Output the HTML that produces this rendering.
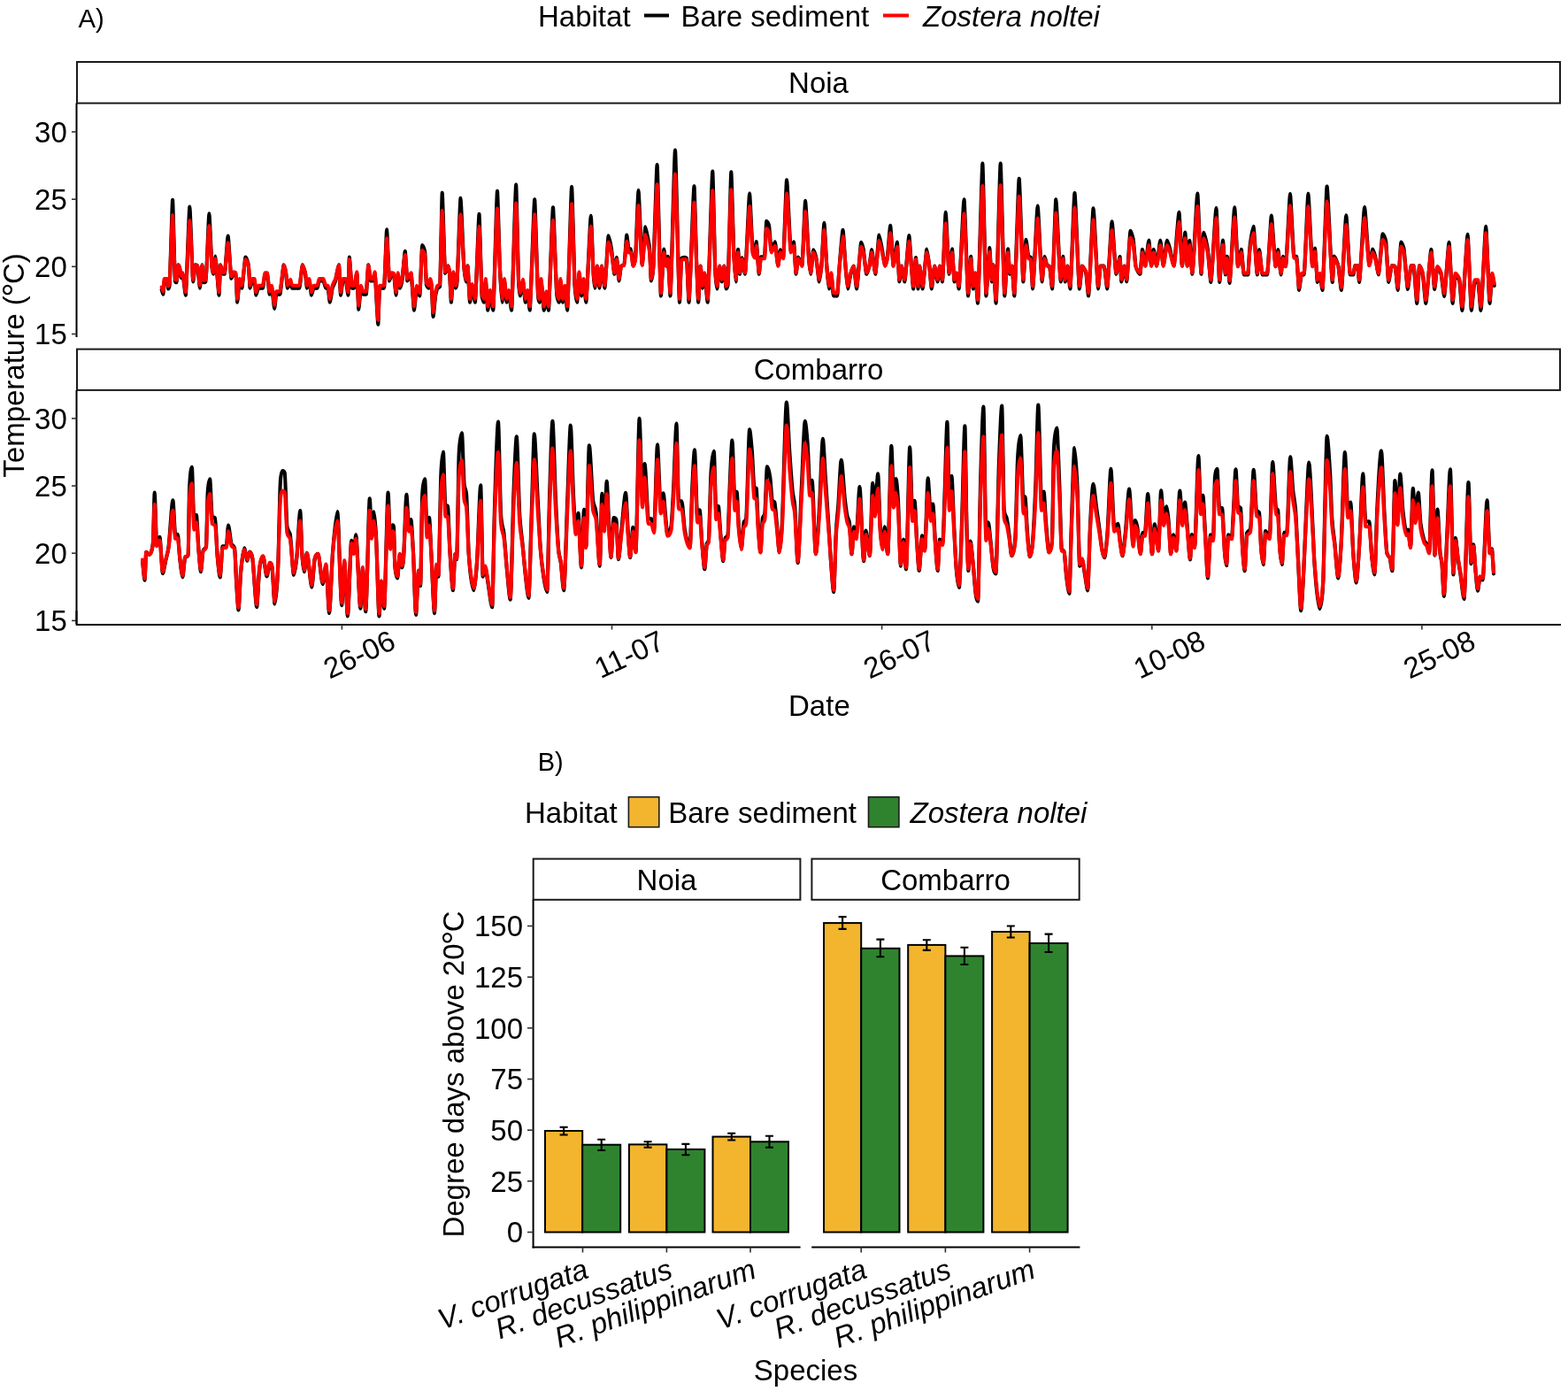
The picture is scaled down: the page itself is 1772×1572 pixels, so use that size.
<!DOCTYPE html>
<html><head><meta charset="utf-8"><title>Figure</title>
<style>html,body{margin:0;padding:0;background:#fff;overflow:hidden;}svg{display:block;}</style>
</head><body>
<svg width="1772" height="1572" viewBox="0 0 1772 1572" font-family="'Liberation Sans', Arial, Helvetica, sans-serif">
<rect x="0" y="0" width="1772" height="1572" fill="#fff"/>
<text x="88.5" y="30.6" font-size="29.3">A)</text>
<text x="608" y="29.5" font-size="33">Habitat</text>
<line x1="728" y1="17.5" x2="756" y2="17.5" stroke="#000" stroke-width="4"/>
<text x="769.5" y="29.5" font-size="33">Bare sediment</text>
<line x1="998" y1="17.5" x2="1027" y2="17.5" stroke="#f00" stroke-width="4"/>
<text x="1043" y="29.5" font-size="33" font-style="italic">Zostera noltei</text>
<rect x="87" y="70" width="1676" height="46.6" fill="#fff" stroke="#1a1a1a" stroke-width="2"/>
<text x="925" y="105" font-size="33" text-anchor="middle">Noia</text>
<rect x="87" y="394.6" width="1676" height="46.3" fill="#fff" stroke="#1a1a1a" stroke-width="2"/>
<text x="925" y="429.4" font-size="33" text-anchor="middle">Combarro</text>
<line x1="86.5" y1="116.6" x2="86.5" y2="381" stroke="#000" stroke-width="2"/>
<line x1="81" y1="149" x2="86.5" y2="149" stroke="#333" stroke-width="1.6"/>
<text x="75.8" y="160.9" font-size="33" text-anchor="end">30</text>
<line x1="81" y1="225.2" x2="86.5" y2="225.2" stroke="#333" stroke-width="1.6"/>
<text x="75.8" y="237.1" font-size="33" text-anchor="end">25</text>
<line x1="81" y1="301.3" x2="86.5" y2="301.3" stroke="#333" stroke-width="1.6"/>
<text x="75.8" y="313.2" font-size="33" text-anchor="end">20</text>
<line x1="81" y1="377.5" x2="86.5" y2="377.5" stroke="#333" stroke-width="1.6"/>
<text x="75.8" y="389.4" font-size="33" text-anchor="end">15</text>
<line x1="86.5" y1="440.9" x2="86.5" y2="705" stroke="#000" stroke-width="2"/>
<line x1="81" y1="472.9" x2="86.5" y2="472.9" stroke="#333" stroke-width="1.6"/>
<text x="75.8" y="484.8" font-size="33" text-anchor="end">30</text>
<line x1="81" y1="549.1" x2="86.5" y2="549.1" stroke="#333" stroke-width="1.6"/>
<text x="75.8" y="561" font-size="33" text-anchor="end">25</text>
<line x1="81" y1="625.2" x2="86.5" y2="625.2" stroke="#333" stroke-width="1.6"/>
<text x="75.8" y="637.1" font-size="33" text-anchor="end">20</text>
<line x1="81" y1="701.4" x2="86.5" y2="701.4" stroke="#333" stroke-width="1.6"/>
<text x="75.8" y="713.3" font-size="33" text-anchor="end">15</text>
<path d="M86.5,690 V705.9 H1764" stroke="#000" stroke-width="2" fill="none" stroke-linejoin="round"/>
<line x1="386.4" y1="706" x2="386.4" y2="711.5" stroke="#333" stroke-width="1.6"/>
<text x="405.9" y="751" font-size="33" text-anchor="middle" transform="rotate(-25 405.9 739.3)">26-06</text>
<line x1="691.5" y1="706" x2="691.5" y2="711.5" stroke="#333" stroke-width="1.6"/>
<text x="711" y="751" font-size="33" text-anchor="middle" transform="rotate(-25 711 739.3)">11-07</text>
<line x1="996.6" y1="706" x2="996.6" y2="711.5" stroke="#333" stroke-width="1.6"/>
<text x="1016.1" y="751" font-size="33" text-anchor="middle" transform="rotate(-25 1016.1 739.3)">26-07</text>
<line x1="1301.8" y1="706" x2="1301.8" y2="711.5" stroke="#333" stroke-width="1.6"/>
<text x="1321.3" y="751" font-size="33" text-anchor="middle" transform="rotate(-25 1321.3 739.3)">10-08</text>
<line x1="1606.9" y1="706" x2="1606.9" y2="711.5" stroke="#333" stroke-width="1.6"/>
<text x="1626.4" y="751" font-size="33" text-anchor="middle" transform="rotate(-25 1626.4 739.3)">25-08</text>
<text x="925.9" y="808.7" font-size="33" text-anchor="middle">Date</text>
<text x="26.7" y="413" font-size="33" text-anchor="middle" transform="rotate(-90 26.7 413)">Temperature (<tspan font-size="41" dy="4" dx="-1.5">°</tspan><tspan dy="-4" dx="-1.7">C)</tspan></text>
<path d="M182.7,327.3C183,328.2 184.1,332.7 184.4,332.7C184.6,332.7 185.4,317.5 185.6,317.5C186.1,317.5 188.4,317.5 189,317.5C189.1,317.5 189.8,326.5 190,326.5C190.3,326.5 191.4,324.2 191.7,322C192.2,317.5 194.5,225.7 195.1,225.7C195.5,225.7 197.5,316 197.9,317.5C198.2,318.4 199.3,319.3 199.6,319.3C199.9,319.3 201,299.4 201.3,299.4C201.6,299.4 202.7,301.4 203,302.6C203.3,303.8 204.4,313.9 204.7,313.9C205,313.9 206.1,309.8 206.4,309.8C207,309.8 209.2,333.6 209.8,333.6C210.5,333.6 213.6,233.6 214.4,233.6C215,233.6 217.6,318.4 218.2,318.4C218.7,318.4 220.4,299.4 220.8,299.4C221.2,299.4 222.9,299.9 223.3,300.5C223.7,301 225.4,325.6 225.9,325.6C226.3,325.6 228,299.4 228.4,299.4C228.7,299.4 229.8,319.3 230.1,319.3C230.5,319.3 232.2,318.8 232.6,318.4C233.3,317.7 235.7,241.4 236.4,241.4C236.9,241.4 238.9,294.1 239.4,300.5C239.7,304 240.8,309.8 241.1,309.8C241.5,309.8 243.2,289.5 243.6,289.5C243.9,289.5 245.1,306.6 245.3,309.8C245.7,314 247.2,333.6 247.5,333.6C247.8,333.6 248.9,299.4 249.2,299.4C249.7,299.4 251.6,309.8 252.1,309.8C252.4,309.8 253.5,309.8 253.8,309.8C254.4,309.8 257,266.6 257.7,266.6C258.3,266.6 260.8,314.8 261.4,314.8C261.8,314.8 263.5,308.8 264,308.8C264.4,308.8 266.1,309.3 266.5,309.8C266.8,310.1 267.9,341.7 268.2,341.7C268.6,341.7 270.3,317.5 270.7,317.5C271.2,317.5 272.8,325.6 273.3,325.6C274,325.6 276.8,290.6 277.5,290.6C278.1,290.6 280.3,295.5 280.9,300.5C281.2,302.9 282.3,325.6 282.6,325.6C283,325.6 284.7,317.5 285.1,317.5C285.5,317.5 287.2,317.5 287.7,317.5C287.9,317.5 289.1,333.6 289.3,333.6C289.8,333.6 291.5,325.6 291.9,325.6C292.7,325.6 296.1,325.6 297,325.6C297.4,325.6 299.1,309.8 299.5,309.8C299.9,309.8 301.6,309.8 302,309.8C302.5,309.8 304.2,332.7 304.6,332.7C305,332.7 306.7,325.6 307.1,325.6C307.6,325.6 309.7,348.9 310.2,348.9C310.5,348.9 311.9,332.7 312.2,332.7C312.9,332.7 315.7,332.7 316.4,332.7C317.1,332.7 320,299.4 320.7,299.4C321.1,299.4 322.8,307 323.2,309.8C323.5,311.7 324.6,325.6 324.9,325.6C325.5,325.6 327.7,318.4 328.3,318.4C328.6,318.4 329.7,325.6 330,325.6C331.4,325.6 337,325.6 338.4,325.6C339,325.6 341.3,299.3 341.8,299.3C342.4,299.3 344.7,307.4 345.2,310.8C345.5,312.5 346.6,325.6 346.9,325.6C347.3,325.6 349,317.5 349.4,317.5C349.9,317.5 351.6,333.6 352,333.6C352.4,333.6 354.1,325.6 354.5,325.6C355.2,325.6 358.1,325.6 358.8,325.6C359,325.6 360.2,317.5 360.5,317.5C361.3,317.5 364.7,317.5 365.5,317.5C366,317.5 367.6,325.6 368.1,325.6C368.5,325.6 370.2,325.6 370.6,325.6C371,325.6 372.4,341.7 372.8,341.7C373.3,341.7 375.2,327.5 375.7,325.6C376.3,323.3 378.5,319.5 379.1,317.5C379.7,315.2 382.3,299.3 383,299.3C383.3,299.3 384.7,333.6 385,333.6C385.4,333.6 387.1,317.5 387.5,317.5C388.1,317.5 390.4,317.5 390.9,317.5C391.3,317.5 393,333.6 393.5,333.6C393.7,333.6 394.6,290.5 394.8,290.5C395.3,290.5 397.2,325.6 397.7,325.6C398.1,325.6 399.8,325.6 400.2,325.6C400.7,325.6 402.8,308.8 403.3,308.8C403.6,308.8 405,349.8 405.3,349.8C405.7,349.8 407.4,325.6 407.9,325.6C408.3,325.6 410,332.7 410.4,332.7C411,332.7 413.2,332.7 413.8,332.7C414.2,332.7 415.9,299.3 416.3,299.3C416.7,299.3 418.4,317.5 418.9,317.5C419.3,317.5 421,317.5 421.4,317.5C421.8,317.5 423.2,308.8 423.6,308.8C424.2,308.8 426.7,366.8 427.3,366.8C427.6,366.8 428.7,325.6 429,325.6C429.9,325.6 433.2,325.6 434.1,325.6C434.6,325.6 436.6,259.3 437.1,259.3C437.6,259.3 439.5,317.5 440,317.5C440.4,317.5 442.1,309.8 442.6,309.8C443,309.8 444.7,310.3 445.1,310.8C445.5,311.4 447.2,333.6 447.6,333.6C448,333.6 449.3,309.8 449.7,309.8C450,309.8 451.5,325.6 451.9,325.6C452.3,325.6 454,320.3 454.4,317.5C455,313.8 457.2,283.7 457.8,283.7C458.2,283.7 459.9,317.5 460.3,317.5C461,317.5 463.9,309.8 464.6,309.8C465.1,309.8 467.4,350.7 468,350.7C468.4,350.7 470.4,325.6 470.9,325.6C471.5,325.6 473.7,334.5 474.3,334.5C474.8,334.5 476.7,277 477.2,277C477.7,277 479.7,280.9 480.2,284.8C480.5,287 481.6,320.8 481.9,322C482.4,323.8 484,325.6 484.5,325.6C484.8,325.6 485.9,317.5 486.2,317.5C486.4,317.5 487.6,322.2 487.9,325.6C488.1,328.9 489.3,357.9 489.5,357.9C490,357.9 491.7,337.2 492.1,334.5C492.5,331.8 494.2,325.6 494.6,325.6C495,325.5 496.7,324.7 497.2,323.8C497.6,322.9 499.3,217.8 499.7,217.8C500.3,217.8 502.5,308.8 503.1,308.8C503.7,308.8 505.9,300.4 506.5,300.4C506.8,300.4 507.9,307.4 508.2,310.8C508.5,314.3 509.6,341.7 509.9,341.7C510.3,341.7 512,308.8 512.4,308.8C512.8,308.8 514.5,325.6 514.9,325.6C515.2,325.6 516.4,321.5 516.6,317.5C517.3,308.2 519.9,223.7 520.5,223.7C521.1,223.7 523.6,291.9 524.3,300.4C524.7,306.3 526.4,318.4 526.8,318.4C527.1,318.4 528.2,300.4 528.5,300.4C528.9,300.4 530.6,341.7 531,341.7C531.4,341.7 533.1,323.8 533.6,323.8C534.1,323.8 536.4,341.7 536.9,341.7C537.7,341.7 540.8,241.8 541.5,241.8C542,241.8 544.1,330.2 544.6,334.5C545,338.1 546.7,341.7 547.1,341.7C547.4,341.7 548.5,317.5 548.8,317.5C549.2,317.5 550.9,350.7 551.3,350.7C551.8,350.7 553.5,330.9 553.9,330.9C554.4,330.9 556.7,350.7 557.3,350.7C558.1,350.7 561.2,215.8 562,215.8C562.5,215.8 564.4,291.6 564.9,302.6C565.3,312.2 567,341.7 567.4,341.7C567.8,341.7 569.5,317.5 570,317.5C570.4,317.5 572.1,341.7 572.5,341.7C572.9,341.7 574.6,330.9 575,330.9C575.5,330.9 577.6,350.7 578.1,350.7C578.9,350.7 582.3,208.6 583.2,208.6C583.6,208.6 585.6,306 586,317.5C586.3,324.2 587.5,334.5 587.7,334.5C588.3,334.5 590.6,318.4 591.1,318.4C591.5,318.4 593.2,341.7 593.7,341.7C594.1,341.7 595.8,330.9 596.2,330.9C596.6,330.9 598.3,350.7 598.7,350.7C599.6,350.7 603.3,225.4 604.2,225.4C604.8,225.4 607.4,326.3 608.1,334.5C608.3,338.1 609.5,341.7 609.7,341.7C610,341.7 611.2,317.5 611.4,317.5C612,317.5 614.3,350.7 614.8,350.7C615.2,350.7 616.9,332.7 617.4,332.7C617.8,332.7 619.5,350.7 619.9,350.7C620.7,350.7 624.1,234.4 625,234.4C625.7,234.4 628.5,325.3 629.2,332.7C629.6,337.2 631.3,341.7 631.8,341.7C632,341.7 633.2,317.5 633.4,317.5C633.9,317.5 635.6,341.7 636,341.7C636.4,341.7 638.1,325.6 638.5,325.6C638.9,325.6 640.6,350.7 641.1,350.7C641.9,350.7 645.3,211.1 646.1,211.1C646.7,211.1 649,310.5 649.5,322C650,330.5 651.6,341.7 652.1,341.7C652.5,341.7 654.2,308.8 654.6,308.8C655,308.8 656.7,334.5 657.1,334.5C657.6,334.5 659.3,317.5 659.7,317.5C660.1,317.5 661.8,341.7 662.2,341.7C663.2,341.7 666.9,243.7 667.8,243.7C668.3,243.7 670.2,303.2 670.7,310.8C671,315.3 672.1,325.6 672.4,325.6C672.8,325.6 674.5,300.5 674.9,300.5C675.3,300.5 677,325.6 677.5,325.6C677.9,325.6 679.6,300.5 680,300.5C680.6,300.5 682.8,325.6 683.4,325.6C684.1,325.6 686.9,266.4 687.6,266.4C688.2,266.4 690.4,277.7 691,281.3C691.6,284.9 693.8,309.8 694.4,309.8C694.8,309.8 696.5,290.9 696.9,290.9C697.4,290.9 699,317.5 699.5,317.5C699.9,317.5 701.6,300.7 702,300.5C702.6,300.2 704.8,299.9 705.4,299.4C705.9,299 707.8,265.5 708.3,265.5C708.6,265.5 710.1,281.4 710.5,281.4C710.9,281.4 712.6,281.4 713,281.4C713.4,281.5 715.1,300.5 715.6,300.5C716,300.5 717.7,295.7 718.1,291C718.7,284.6 720.9,215 721.5,215C722.2,215 725,299.4 725.7,299.4C726.3,299.4 728.8,256.3 729.4,256.3C729.9,256.3 732,268.2 732.5,271C732.8,272.6 733.9,277.7 734.2,281.6C734.5,285.4 735.6,317.5 735.9,317.5C736.3,317.5 738,307.6 738.4,300.5C739.1,288.6 741.9,186 742.6,186C743.3,186 746.2,334.5 746.9,334.5C747.4,334.5 749.7,281.5 750.3,281.5C750.7,281.5 752.4,300.5 752.8,300.5C753.1,300.5 754.5,289.9 754.8,289.9C755.3,289.9 757.1,334.5 757.5,334.5C758.4,334.5 762,169.5 763,169.5C763.8,169.5 767.2,341.7 768,341.7C768.4,341.7 769.7,292.3 770.1,292C770.6,291.4 772.9,290.9 773.5,290.9C773.9,290.9 775.6,291.4 776,292C776.4,292.5 778.1,341.7 778.5,341.7C779.5,341.7 783.5,210.2 784.5,210.2C784.9,210.2 786.6,280.4 787,292C787.4,302 788.8,341.7 789.2,341.7C789.6,341.7 791.3,300.5 791.7,300.5C792.1,300.5 793.4,325.6 793.8,325.6C794.2,325.6 795.9,309.8 796.3,309.8C796.9,309.8 799.1,341.7 799.7,341.7C800.6,341.7 804.4,193.6 805.3,193.6C805.8,193.6 807.7,290.9 808.2,302.6C808.5,311.5 810,326.5 810.4,326.5C810.8,326.5 812.8,300.5 813.2,300.5C813.7,300.5 815.4,318.4 815.8,318.4C816.2,318.4 817.9,300.5 818.3,300.5C818.7,300.5 820.2,326.5 820.5,326.5C820.9,326.5 822.2,324.2 822.6,322C823.2,317.9 825.7,194.3 826.3,194.3C826.8,194.3 828.8,274.6 829.3,286C829.7,294.2 831.2,318.4 831.5,318.4C832,318.4 833.6,281.9 834.1,281.9C834.4,281.9 835.8,309.8 836.1,309.8C836.5,309.8 838.2,291.2 838.6,291.2C839.2,291.2 841.5,309.8 842,309.8C842.9,309.8 846.3,218.6 847.1,218.6C847.7,218.6 849.9,277.3 850.5,282.1C850.9,285.7 852.6,289.3 853,289.3C853.3,289.3 854.4,273 854.7,273C855.2,273 857.3,309.8 857.8,309.8C858.1,309.8 859.5,290.3 859.8,290.3C860.5,290.3 863.3,290.4 864,290.4C864.4,290.4 865.9,249.8 866.2,249.8C866.7,249.8 868.6,252.4 869.1,254.9C869.5,257.2 871.2,282.3 871.7,282.3C872.4,282.3 875.2,273.3 875.9,273.3C876.4,273.3 878.7,300.5 879.3,300.5C879.7,300.5 881.4,282.4 881.8,282.4C882.4,282.4 884.6,290.5 885.2,290.5C885.8,290.5 888.4,203.2 889.1,203.2C889.9,203.2 892.9,282.5 893.7,282.5C894.2,282.5 896.5,273.4 897,273.4C897.5,273.4 899.2,309.8 899.6,309.8C900,309.8 901.7,290.5 902.1,290.5C902.8,290.5 905.7,300.5 906.4,300.5C907,300.5 909.5,226.9 910.1,226.9C910.7,226.9 913.3,282.3 914,290.4C914.3,295 915.8,309.8 916.2,309.8C916.7,309.8 918.6,282.3 919.1,282.3C919.6,282.3 921.9,288.4 922.4,291.4C923,294.4 925.3,318.4 925.8,318.4C926.2,318.4 927.9,305.4 928.4,300.5C928.9,294.7 930.9,251.8 931.4,251.8C931.9,251.8 933.8,294 934.3,300.5C934.7,306.3 936.4,326.5 936.8,326.5C937.3,326.5 938.9,309.8 939.4,309.8C939.8,309.8 941.5,334.5 941.9,334.5C942.6,334.5 945.4,334.5 946.1,334.5C946.6,334.5 948.3,305.6 948.7,300.5C949.3,292.8 951.9,259.7 952.6,259.7C953.1,259.7 955,294.7 955.5,300.5C955.9,305.7 957.6,326.5 958,326.5C958.6,326.5 960.8,312 961.4,309.8C961.9,307.6 964.2,300.5 964.8,300.5C965.3,300.5 967.6,326.5 968.1,326.5C969,326.5 972.4,273.9 973.2,273.9C973.7,273.9 975.3,279.6 975.8,282C976.3,285.3 978.6,309.8 979.2,309.8C979.7,309.8 982,303.3 982.5,300.5C983,298.4 984.7,282 985.1,282C985.8,282 988.6,309.8 989.3,309.8C990,309.8 992.8,265.5 993.5,265.5C994.1,265.5 996.4,279 996.9,281.9C997.5,284.9 999.7,300.5 1000.3,300.5C1000.7,300.5 1002.4,293.2 1002.9,290.2C1003.4,286.1 1005.7,254.9 1006.2,254.9C1006.8,254.9 1009.1,300.5 1009.6,300.5C1010.3,300.5 1013.2,273.5 1013.9,273.5C1014.3,273.5 1016,318.4 1016.4,318.4C1016.8,318.4 1018.5,300.5 1018.9,300.5C1019.5,300.5 1021.8,318.4 1022.3,318.4C1023.2,318.4 1026.6,266 1027.4,266C1027.8,266 1029.5,295.1 1029.9,300.5C1030.3,305.2 1031.8,326.5 1032.1,326.5C1032.6,326.5 1034.5,291.1 1035,291.1C1035.4,291.1 1037.1,326.5 1037.6,326.5C1037.8,326.5 1039,300.5 1039.3,300.5C1039.8,300.5 1042.1,326.5 1042.6,326.5C1043.4,326.5 1046.6,281.5 1047.4,281.5C1047.9,281.5 1049.8,296.5 1050.3,300.5C1050.7,304 1052.4,326.5 1052.8,326.5C1053.4,326.5 1055.6,300.5 1056.2,300.5C1056.7,300.5 1059,318.4 1059.6,318.4C1060,318.4 1061.7,300.5 1062.1,300.5C1062.6,300.5 1064.5,318.4 1065,318.4C1065.6,318.4 1068.1,239.8 1068.7,239.8C1069.4,239.8 1072,309.8 1072.6,309.8C1073.2,309.8 1075.4,281.3 1076,281.3C1076.4,281.3 1078.1,318.4 1078.5,318.4C1079,318.4 1080.7,309.8 1081.1,309.8C1081.5,309.8 1083.2,326.5 1083.6,326.5C1084.6,326.5 1088.6,225.3 1089.5,225.3C1090.3,225.3 1093.4,334.5 1094.1,334.5C1094.6,334.5 1096.7,289.7 1097.2,289.7C1097.6,289.7 1099.3,326.5 1099.7,326.5C1100.1,326.5 1101.8,309.8 1102.2,309.8C1102.7,309.8 1104.5,342.6 1105,342.6C1105.9,342.6 1109.5,184.6 1110.4,184.6C1111,184.6 1113.8,334.5 1114.4,334.5C1115.1,334.5 1117.7,280 1118.3,280C1118.7,280 1120.4,318.4 1120.9,318.4C1121.1,318.4 1122.3,299.4 1122.6,299.4C1123.1,299.4 1125.1,342.6 1125.6,342.6C1126.5,342.6 1129.8,184.6 1130.7,184.6C1131.4,184.6 1134.5,334.5 1135.3,334.5C1135.9,334.5 1138.5,281.2 1139.1,281.2C1139.5,281.2 1140.8,309.8 1141.2,309.8C1141.6,309.8 1143.3,300.5 1143.7,300.5C1144.1,300.5 1145.8,334.5 1146.3,334.5C1147.2,334.5 1150.8,201.7 1151.7,201.7C1152.5,201.7 1155.6,318.4 1156.4,318.4C1156.9,318.4 1159,270.8 1159.5,270.8C1159.9,270.8 1161.9,289.6 1162.3,289.9C1162.8,290.1 1164.5,290.4 1164.9,290.9C1165.2,291.4 1166.7,326.5 1167.1,326.5C1168,326.5 1171.7,232.6 1172.7,232.6C1173.5,232.6 1176.8,318.4 1177.6,318.4C1178.1,318.4 1180,289.9 1180.5,289.9C1181,289.9 1183,300.5 1183.5,300.5C1183.9,300.5 1185.6,300.5 1186,300.5C1186.6,300.5 1188.6,326.5 1189.1,326.5C1189.8,326.5 1192.6,225.3 1193.3,225.3C1194.2,225.3 1197.8,318.4 1198.7,318.4C1199.2,318.4 1200.9,289.9 1201.3,289.9C1201.7,289.9 1203.4,318.4 1203.8,318.4C1204.2,318.4 1205.9,300.5 1206.4,300.5C1206.9,300.5 1208.9,326.5 1209.4,326.5C1210.3,326.5 1213.6,218 1214.5,218C1215.4,218 1219,326.5 1219.9,326.5C1220.4,326.5 1222.3,300.5 1222.8,300.5C1223.6,300.5 1226.7,305.2 1227.5,309.8C1227.9,312.3 1229.6,334.5 1230.1,334.5C1231,334.5 1234.7,235.2 1235.6,235.2C1236.5,235.2 1240.2,326.5 1241.1,326.5C1241.5,326.5 1243.2,300.5 1243.6,300.5C1244.3,300.5 1247.1,300.5 1247.8,300.5C1248.4,300.5 1250.7,326.5 1251.2,326.5C1252.1,326.5 1255.7,250.2 1256.6,250.2C1257.4,250.2 1260.6,309.8 1261.4,309.8C1262.1,309.8 1264.9,290 1265.6,290C1265.9,290 1267,318.4 1267.3,318.4C1267.9,318.4 1270.1,300.5 1270.7,300.5C1271.1,300.5 1272.8,318.4 1273.2,318.4C1273.9,318.4 1276.8,260.9 1277.5,260.9C1278,260.9 1280.3,267.2 1280.8,271.3C1281.3,274.4 1283,298.2 1283.4,300.5C1284.2,305.2 1287.6,309.8 1288.5,309.8C1288.9,309.8 1290.6,281.8 1291,281.8C1291.6,281.8 1293.8,300.5 1294.4,300.5C1295,300.5 1297.6,271.5 1298.3,271.5C1298.8,271.5 1300.7,300.5 1301.2,300.5C1301.6,300.5 1303.3,281.9 1303.7,281.9C1304.3,281.9 1306.5,300.5 1307.1,300.5C1307.8,300.5 1310.6,271.5 1311.3,271.5C1311.9,271.5 1314.1,300.5 1314.7,300.5C1315.4,300.5 1318.2,271.6 1318.9,271.6C1319.5,271.6 1321.8,279.8 1322.3,281.9C1323,284.6 1325.8,300.5 1326.6,300.5C1327.5,300.5 1331.5,239.8 1332.5,239.8C1333,239.8 1335.3,300.5 1335.9,300.5C1336.4,300.5 1338.7,262.5 1339.3,262.5C1339.7,262.5 1341.4,300.5 1341.8,300.5C1342.2,300.5 1343.9,271.8 1344.3,271.8C1344.8,271.8 1346.9,309.8 1347.4,309.8C1348.4,309.8 1352.3,218.6 1353.3,218.6C1354,218.6 1356.8,309.8 1357.5,309.8C1358,309.8 1359.9,262.7 1360.4,262.7C1361.2,262.7 1364.2,277.2 1365,282.9C1365.6,287.2 1367.8,318.9 1368.4,318.9C1369.4,318.9 1373.4,235.1 1374.5,235.1C1375.1,235.1 1377.6,318.9 1378.2,318.9C1378.9,318.9 1381.4,271.6 1382,271.6C1382.5,271.6 1384.4,310.4 1384.9,310.4C1385.2,310.4 1386.4,289.8 1386.7,289.8C1387.2,289.8 1389.1,319.9 1389.6,319.9C1390.5,319.9 1394.3,234.2 1395.2,234.2C1395.9,234.2 1398.4,301.2 1399,301.2C1399.7,301.2 1402.2,281.9 1402.8,281.9C1403.3,281.9 1405.2,310.4 1405.6,310.4C1406.4,310.4 1409.6,310.4 1410.4,310.4C1410.7,310.4 1411.9,284.2 1412.3,280.8C1413,273.1 1415.9,255.9 1416.6,255.9C1417.3,255.9 1420.1,310.4 1420.8,310.4C1421.2,310.4 1422.8,282 1423.2,282C1423.8,282 1425.9,310.4 1426.4,310.4C1427.4,310.4 1431.2,310.4 1432.1,310.4C1432.9,310.4 1436.1,243.6 1436.8,243.6C1437.6,243.6 1440.8,301.2 1441.6,301.2C1442,301.2 1443.9,282 1444.4,282C1444.9,282 1447.1,310.4 1447.6,310.4C1448,310.4 1449.7,289.9 1450.1,289.9C1450.5,289.9 1452.4,301.2 1452.9,301.2C1453.8,301.2 1457.2,219.1 1458,219.1C1458.7,219.1 1461.6,289.9 1462.4,289.9C1462.8,289.9 1464.7,289.9 1465.2,289.9C1465.7,289.9 1467.6,327.9 1468,327.9C1468.5,327.9 1470.4,310.4 1470.9,310.4C1471.3,310.4 1473.2,310.4 1473.7,310.4C1474.5,310.4 1477.6,218.9 1478.4,218.9C1479.2,218.9 1482.4,301.2 1483.2,301.2C1483.6,301.2 1485.5,280.5 1486,280.5C1486.5,280.5 1488.4,318.9 1488.8,318.9C1489.3,318.9 1491.2,310.4 1491.7,310.4C1492.1,310.4 1494,327.9 1494.5,327.9C1495.4,327.9 1498.8,210.5 1499.6,210.5C1500.6,210.5 1504.8,318.9 1505.8,318.9C1506.2,318.9 1507.4,289.6 1507.7,289.6C1508.5,289.6 1511.7,297.1 1512.5,301.2C1513,304.1 1515.3,327.9 1515.9,327.9C1516.8,327.9 1520.4,243.2 1521.3,243.2C1522.1,243.2 1525,310.4 1525.7,310.4C1526.3,310.4 1528.8,310.4 1529.5,310.4C1529.8,310.4 1531,300 1531.4,300C1531.8,300 1533.7,300 1534.2,300C1534.5,300 1535.8,318.9 1536.1,318.9C1537.1,318.9 1541.1,234.1 1542.1,234.1C1543,234.1 1546.6,300 1547.4,300C1548.1,300 1550.6,281.6 1551.2,281.6C1551.7,281.6 1553.6,287.7 1554.1,289.7C1554.7,292.3 1557.2,310.4 1557.8,310.4C1558.6,310.4 1561.8,264.3 1562.6,264.3C1563.2,264.3 1565.7,268.9 1566.3,273.5C1566.8,277 1568.7,318.9 1569.2,318.9C1569.8,318.9 1572.3,300.1 1573,300.1C1573.6,300.1 1576.1,300.6 1576.7,301.2C1577.2,301.6 1579.1,327.9 1579.6,327.9C1580.2,327.9 1582.7,273.6 1583.4,273.6C1583.9,273.6 1586,278.2 1586.6,281.7C1587.3,286.3 1590.2,326.9 1590.9,326.9C1591.5,326.9 1594.1,300.1 1594.7,300.1C1595.2,300.1 1597.1,300.1 1597.5,300.1C1598.2,300.1 1600.7,342.9 1601.3,342.9C1601.8,342.9 1603.7,300.1 1604.1,300.1C1604.8,300.1 1607.3,306.6 1607.9,310.4C1608.5,313.9 1610.8,342.9 1611.3,342.9C1612.3,342.9 1616.4,281.7 1617.4,281.7C1618,281.7 1620.5,326.9 1621.2,326.9C1621.7,326.9 1623.8,301.2 1624.4,301.2C1625.1,301.2 1628,307.1 1628.7,310.4C1629.3,313.1 1631.6,334.9 1632.1,334.9C1633,334.9 1636.7,273.8 1637.6,273.8C1638.3,273.8 1640.9,342.9 1641.6,342.9C1642.1,342.9 1644.3,310.4 1644.8,310.4C1645.6,310.4 1648.7,314.6 1649.5,318.9C1650,321.4 1651.9,350.9 1652.4,350.9C1653.4,350.9 1657.6,264.8 1658.6,264.8C1659.3,264.8 1662.1,350.9 1662.8,350.9C1663.4,350.9 1665.9,318.9 1666.5,318.9C1667.2,318.9 1669.7,318.9 1670.3,318.9C1670.9,318.9 1673,350.9 1673.5,350.9C1674.5,350.9 1678.3,255.8 1679.2,255.8C1679.9,255.8 1682.8,342.9 1683.5,342.9C1684,342.9 1685.9,310.4 1686.4,310.4C1686.8,310.4 1688.3,320.8 1688.7,322.9" fill="none" stroke="#000" stroke-width="4.1" stroke-linejoin="round" stroke-linecap="round"/>
<path d="M182.7,324.4C183,325.2 184.1,329.4 184.4,329.4C184.6,329.4 185.4,315.1 185.6,315.1C186.1,315.1 188.4,315.1 189,315.1C189.1,315.1 189.8,323.5 190,323.5C190.3,323.5 191.4,321.4 191.7,319.3C192.2,315.1 194.5,243.1 195.1,243.1C195.5,243.1 197.5,313.6 197.9,315.1C198.2,315.9 199.3,316.8 199.6,316.8C199.9,316.8 201,299.8 201.3,299.8C201.6,299.8 202.7,301.4 203,302.4C203.3,303.3 204.4,311.7 204.7,311.7C205,311.7 206.1,308.3 206.4,308.3C207,308.3 209.2,330.3 209.8,330.3C210.5,330.3 213.6,249 214.4,249C215,249 217.6,315.9 218.2,315.9C218.7,315.9 220.4,299.8 220.8,299.8C221.2,299.8 222.9,300.2 223.3,300.7C223.7,301.1 225.4,322.7 225.9,322.7C226.3,322.7 228,299.8 228.4,299.8C228.7,299.8 229.8,316.8 230.1,316.8C230.5,316.8 232.2,316.3 232.6,315.9C233.3,315.3 235.7,255 236.4,255C236.9,255 238.9,295.7 239.4,300.7C239.7,303.4 240.8,308.3 241.1,308.3C241.5,308.3 243.2,292.2 243.6,292.2C243.9,292.2 245.1,305.5 245.3,308.3C245.7,311.9 247.2,330.3 247.5,330.3C247.8,330.3 248.9,299.8 249.2,299.8C249.7,299.8 251.6,308.3 252.1,308.3C252.4,308.3 253.5,308.3 253.8,308.3C254.4,308.3 257,274.4 257.7,274.4C258.3,274.4 260.8,312.5 261.4,312.5C261.8,312.5 263.5,307.4 264,307.4C264.4,307.4 266.1,307.9 266.5,308.3C266.8,308.6 267.9,337.9 268.2,337.9C268.6,337.9 270.3,315.1 270.7,315.1C271.2,315.1 272.8,322.7 273.3,322.7C274,322.7 276.8,293.1 277.5,293.1C278.1,293.1 280.3,296.9 280.9,300.7C281.2,302.6 282.3,322.7 282.6,322.7C283,322.7 284.7,315.1 285.1,315.1C285.5,315.1 287.2,315.1 287.7,315.1C287.9,315.1 289.1,330.3 289.3,330.3C289.8,330.3 291.5,322.7 291.9,322.7C292.7,322.7 296.1,322.7 297,322.7C297.4,322.7 299.1,308.3 299.5,308.3C299.9,308.3 301.6,308.3 302,308.3C302.5,308.3 304.2,329.4 304.6,329.4C305,329.4 306.7,322.7 307.1,322.7C307.6,322.7 309.7,344.7 310.2,344.7C310.5,344.7 311.9,329.4 312.2,329.4C312.9,329.4 315.7,329.4 316.4,329.4C317.1,329.4 320,299.8 320.7,299.8C321.1,299.8 322.8,305.8 323.2,308.3C323.5,310 324.6,322.7 324.9,322.7C325.5,322.7 327.7,315.9 328.3,315.9C328.6,315.9 329.7,322.7 330,322.7C331.4,322.7 337,322.7 338.4,322.7C339,322.7 341.3,299.8 341.8,299.8C342.4,299.8 344.7,306.1 345.2,309.1C345.5,310.6 346.6,322.7 346.9,322.7C347.3,322.7 349,315.1 349.4,315.1C349.9,315.1 351.6,330.3 352,330.3C352.4,330.3 354.1,322.7 354.5,322.7C355.2,322.7 358.1,322.7 358.8,322.7C359,322.7 360.2,315.1 360.5,315.1C361.3,315.1 364.7,315.1 365.5,315.1C366,315.1 367.6,322.7 368.1,322.7C368.5,322.7 370.2,322.7 370.6,322.7C371,322.7 372.4,337.9 372.8,337.9C373.3,337.9 375.2,324.5 375.7,322.7C376.3,320.5 378.5,316.8 379.1,315.1C379.7,313.1 382.3,299.8 383,299.8C383.3,299.8 384.7,330.3 385,330.3C385.4,330.3 387.1,315.1 387.5,315.1C388.1,315.1 390.4,315.1 390.9,315.1C391.3,315.1 393,330.3 393.5,330.3C393.7,330.3 394.6,293.1 394.8,293.1C395.3,293.1 397.2,322.7 397.7,322.7C398.1,322.7 399.8,322.7 400.2,322.7C400.7,322.7 402.8,307.4 403.3,307.4C403.6,307.4 405,345.5 405.3,345.5C405.7,345.5 407.4,322.7 407.9,322.7C408.3,322.7 410,329.4 410.4,329.4C411,329.4 413.2,329.4 413.8,329.4C414.2,329.4 415.9,299.8 416.3,299.8C416.7,299.8 418.4,315.1 418.9,315.1C419.3,315.1 421,315.1 421.4,315.1C421.8,315.1 423.2,307.4 423.6,307.4C424.2,307.4 426.7,361.6 427.3,361.6C427.6,361.6 428.7,322.7 429,322.7C429.9,322.7 433.2,322.7 434.1,322.7C434.6,322.7 436.6,269.3 437.1,269.3C437.6,269.3 439.5,315.1 440,315.1C440.4,315.1 442.1,308.3 442.6,308.3C443,308.3 444.7,308.7 445.1,309.1C445.5,309.6 447.2,330.3 447.6,330.3C448,330.3 449.3,308.3 449.7,308.3C450,308.3 451.5,322.7 451.9,322.7C452.3,322.7 454,317.4 454.4,315.1C455,312 457.2,288 457.8,288C458.2,288 459.9,315.1 460.3,315.1C461,315.1 463.9,308.3 464.6,308.3C465.1,308.3 467.4,346.4 468,346.4C468.4,346.4 470.4,322.7 470.9,322.7C471.5,322.7 473.7,331.1 474.3,331.1C474.8,331.1 476.7,282.9 477.2,282.9C477.7,282.9 479.7,285.9 480.2,288.8C480.5,290.5 481.6,318.2 481.9,319.3C482.4,321 484,322.7 484.5,322.7C484.8,322.7 485.9,315.1 486.2,315.1C486.4,315.1 487.6,319.5 487.9,322.7C488.1,325.9 489.3,353.1 489.5,353.1C490,353.1 491.7,333.7 492.1,331.1C492.5,328.6 494.2,322.8 494.6,322.7C495,322.6 496.7,321.8 497.2,321C497.6,320.1 499.3,238 499.7,238C500.3,238 502.5,307.4 503.1,307.4C503.7,307.4 505.9,300.7 506.5,300.7C506.8,300.7 507.9,306 508.2,309.1C508.5,312.2 509.6,337.9 509.9,337.9C510.3,337.9 512,307.4 512.4,307.4C512.8,307.4 514.5,322.7 514.9,322.7C515.2,322.7 516.4,318.3 516.6,315.1C517.3,307.5 519.9,242.3 520.5,242.3C521.1,242.3 523.6,293.9 524.3,300.7C524.7,305.3 526.4,315.9 526.8,315.9C527.1,315.9 528.2,300.7 528.5,300.7C528.9,300.7 530.6,337.9 531,337.9C531.4,337.9 533.1,321 533.6,321C534.1,321 536.4,337.9 536.9,337.9C537.7,337.9 540.8,255.8 541.5,255.8C542,255.8 544.1,327.1 544.6,331.1C545,334.5 546.7,337.9 547.1,337.9C547.4,337.9 548.5,315.1 548.8,315.1C549.2,315.1 550.9,346.4 551.3,346.4C551.8,346.4 553.5,327.8 553.9,327.8C554.4,327.8 556.7,346.4 557.3,346.4C558.1,346.4 561.2,235.5 562,235.5C562.5,235.5 564.4,293.4 564.9,302.4C565.3,310.2 567,337.9 567.4,337.9C567.8,337.9 569.5,315.1 570,315.1C570.4,315.1 572.1,337.9 572.5,337.9C572.9,337.9 574.6,327.8 575,327.8C575.5,327.8 577.6,346.4 578.1,346.4C578.9,346.4 582.3,229.6 583.2,229.6C583.6,229.6 585.6,305.7 586,315.1C586.3,320.6 587.5,331.1 587.7,331.1C588.3,331.1 590.6,315.9 591.1,315.9C591.5,315.9 593.2,337.9 593.7,337.9C594.1,337.9 595.8,327.8 596.2,327.8C596.6,327.8 598.3,346.4 598.7,346.4C599.6,346.4 603.3,242.3 604.2,242.3C604.8,242.3 607.4,323.4 608.1,331.1C608.3,334.5 609.5,337.9 609.7,337.9C610,337.9 611.2,315.1 611.4,315.1C612,315.1 614.3,346.4 614.8,346.4C615.2,346.4 616.9,329.4 617.4,329.4C617.8,329.4 619.5,346.4 619.9,346.4C620.7,346.4 624.1,249 625,249C625.7,249 628.5,322.4 629.2,329.4C629.6,333.7 631.3,337.9 631.8,337.9C632,337.9 633.2,315.1 633.4,315.1C633.9,315.1 635.6,337.9 636,337.9C636.4,337.9 638.1,322.7 638.5,322.7C638.9,322.7 640.6,346.4 641.1,346.4C641.9,346.4 645.3,230.4 646.1,230.4C646.7,230.4 649,309.8 649.5,319.3C650,326.4 651.6,337.9 652.1,337.9C652.5,337.9 654.2,307.4 654.6,307.4C655,307.4 656.7,331.1 657.1,331.1C657.6,331.1 659.3,315.1 659.7,315.1C660.1,315.1 661.8,337.9 662.2,337.9C663.2,337.9 666.9,255.8 667.8,255.8C668.3,255.8 670.2,302.8 670.7,309.1C671,312.9 672.1,322.7 672.4,322.7C672.8,322.7 674.5,300.7 674.9,300.7C675.3,300.7 677,322.7 677.5,322.7C677.9,322.7 679.6,300.7 680,300.7C680.6,300.7 682.8,322.7 683.4,322.7C684.1,322.7 686.9,273.6 687.6,273.6C688.2,273.6 690.4,282.5 691,285.4C691.6,288.3 693.8,308.3 694.4,308.3C694.8,308.3 696.5,293.1 696.9,293.1C697.4,293.1 699,315.1 699.5,315.1C699.9,315.1 701.6,300.8 702,300.7C702.6,300.4 704.8,300.2 705.4,299.8C705.9,299.5 707.8,272.7 708.3,272.7C708.6,272.7 710.1,285.4 710.5,285.4C710.9,285.4 712.6,285.4 713,285.4C713.4,285.4 715.1,300.7 715.6,300.7C716,300.7 717.7,296.9 718.1,293.1C718.7,288 720.9,232.1 721.5,232.1C722.2,232.1 725,299.8 725.7,299.8C726.3,299.8 728.8,265.1 729.4,265.1C729.9,265.1 732,274.7 732.5,277C732.8,278.2 733.9,282.3 734.2,285.4C734.5,288.6 735.6,315.1 735.9,315.1C736.3,315.1 738,306.5 738.4,300.7C739.1,291 741.9,208.4 742.6,208.4C743.3,208.4 746.2,331.1 746.9,331.1C747.4,331.1 749.7,285.4 750.3,285.4C750.7,285.4 752.4,300.7 752.8,300.7C753.1,300.7 754.5,292.2 754.8,292.2C755.3,292.2 757.1,331.1 757.5,331.1C758.4,331.1 762,196.6 763,196.6C763.8,196.6 767.2,337.9 768,337.9C768.4,337.9 769.7,294.2 770.1,293.9C770.6,293.5 772.9,293.1 773.5,293.1C773.9,293.1 775.6,293.5 776,293.9C776.4,294.3 778.1,337.9 778.5,337.9C779.5,337.9 783.5,228.7 784.5,228.7C784.9,228.7 786.6,284.2 787,293.9C787.4,302.3 788.8,337.9 789.2,337.9C789.6,337.9 791.3,300.7 791.7,300.7C792.1,300.7 793.4,322.7 793.8,322.7C794.2,322.7 795.9,308.3 796.3,308.3C796.9,308.3 799.1,337.9 799.7,337.9C800.6,337.9 804.4,215.2 805.3,215.2C805.8,215.2 807.7,292.8 808.2,302.4C808.5,309.7 810,323.5 810.4,323.5C810.8,323.5 812.8,300.7 813.2,300.7C813.7,300.7 815.4,315.9 815.8,315.9C816.2,315.9 817.9,300.7 818.3,300.7C818.7,300.7 820.2,323.5 820.5,323.5C820.9,323.5 822.2,321.4 822.6,319.3C823.2,315.4 825.7,214.3 826.3,214.3C826.8,214.3 828.8,279.5 829.3,288.8C829.7,295.6 831.2,315.9 831.5,315.9C832,315.9 833.6,285.4 834.1,285.4C834.4,285.4 835.8,308.3 836.1,308.3C836.5,308.3 838.2,293.1 838.6,293.1C839.2,293.1 841.5,308.3 842,308.3C842.9,308.3 846.3,233 847.1,233C847.7,233 849.9,281.5 850.5,285.4C850.9,288.4 852.6,291.4 853,291.4C853.3,291.4 854.4,277.8 854.7,277.8C855.2,277.8 857.3,308.3 857.8,308.3C858.1,308.3 859.5,292.2 859.8,292.2C860.5,292.2 863.3,292.2 864,292.2C864.4,292.2 865.9,258.3 866.2,258.3C866.7,258.3 868.6,260.5 869.1,262.6C869.5,264.4 871.2,285.4 871.7,285.4C872.4,285.4 875.2,277.8 875.9,277.8C876.4,277.8 878.7,300.7 879.3,300.7C879.7,300.7 881.4,285.4 881.8,285.4C882.4,285.4 884.6,292.2 885.2,292.2C885.8,292.2 888.4,218.6 889.1,218.6C889.9,218.6 892.9,285.4 893.7,285.4C894.2,285.4 896.5,277.8 897,277.8C897.5,277.8 899.2,308.3 899.6,308.3C900,308.3 901.7,292.2 902.1,292.2C902.8,292.2 905.7,300.7 906.4,300.7C907,300.7 909.5,238.9 910.1,238.9C910.7,238.9 913.3,285.4 914,292.2C914.3,296.1 915.8,308.3 916.2,308.3C916.7,308.3 918.6,285.4 919.1,285.4C919.6,285.4 921.9,290.5 922.4,293.1C923,295.6 925.3,315.9 925.8,315.9C926.2,315.9 927.9,304.8 928.4,300.7C928.9,295.8 930.9,260 931.4,260C931.9,260 933.8,295.1 934.3,300.7C934.7,305.6 936.4,323.5 936.8,323.5C937.3,323.5 938.9,308.3 939.4,308.3C939.8,308.3 941.5,331.1 941.9,331.1C942.6,331.1 945.4,331.1 946.1,331.1C946.6,331.1 948.3,305 948.7,300.7C949.3,294 951.9,266.8 952.6,266.8C953.1,266.8 955,295.7 955.5,300.7C955.9,305.1 957.6,323.5 958,323.5C958.6,323.5 960.8,310.2 961.4,308.3C961.9,306.4 964.2,300.7 964.8,300.7C965.3,300.7 967.6,323.5 968.1,323.5C969,323.5 972.4,278.7 973.2,278.7C973.7,278.7 975.3,283.4 975.8,285.4C976.3,288.1 978.6,308.3 979.2,308.3C979.7,308.3 982,303 982.5,300.7C983,298.9 984.7,285.4 985.1,285.4C985.8,285.4 988.6,308.3 989.3,308.3C990,308.3 992.8,271.9 993.5,271.9C994.1,271.9 996.4,283 996.9,285.4C997.5,287.8 999.7,300.7 1000.3,300.7C1000.7,300.7 1002.4,294.7 1002.9,292.2C1003.4,288.9 1005.7,263.4 1006.2,263.4C1006.8,263.4 1009.1,300.7 1009.6,300.7C1010.3,300.7 1013.2,278.7 1013.9,278.7C1014.3,278.7 1016,315.9 1016.4,315.9C1016.8,315.9 1018.5,300.7 1018.9,300.7C1019.5,300.7 1021.8,315.9 1022.3,315.9C1023.2,315.9 1026.6,272.7 1027.4,272.7C1027.8,272.7 1029.5,296.1 1029.9,300.7C1030.3,304.6 1031.8,323.5 1032.1,323.5C1032.6,323.5 1034.5,293.1 1035,293.1C1035.4,293.1 1037.1,323.5 1037.6,323.5C1037.8,323.5 1039,300.7 1039.3,300.7C1039.8,300.7 1042.1,323.5 1042.6,323.5C1043.4,323.5 1046.6,285.4 1047.4,285.4C1047.9,285.4 1049.8,297.2 1050.3,300.7C1050.7,303.7 1052.4,323.5 1052.8,323.5C1053.4,323.5 1055.6,300.7 1056.2,300.7C1056.7,300.7 1059,315.9 1059.6,315.9C1060,315.9 1061.7,300.7 1062.1,300.7C1062.6,300.7 1064.5,315.9 1065,315.9C1065.6,315.9 1068.1,252.4 1068.7,252.4C1069.4,252.4 1072,308.3 1072.6,308.3C1073.2,308.3 1075.4,285.4 1076,285.4C1076.4,285.4 1078.1,315.9 1078.5,315.9C1079,315.9 1080.7,308.3 1081.1,308.3C1081.5,308.3 1083.2,323.5 1083.6,323.5C1084.6,323.5 1088.6,241.4 1089.5,241.4C1090.3,241.4 1093.4,331.1 1094.1,331.1C1094.6,331.1 1096.7,292.2 1097.2,292.2C1097.6,292.2 1099.3,323.5 1099.7,323.5C1100.1,323.5 1101.8,308.3 1102.2,308.3C1102.7,308.3 1104.5,338.8 1105,338.8C1105.9,338.8 1109.5,210.1 1110.4,210.1C1111,210.1 1113.8,331.1 1114.4,331.1C1115.1,331.1 1117.7,284.6 1118.3,284.6C1118.7,284.6 1120.4,315.9 1120.9,315.9C1121.1,315.9 1122.3,299.8 1122.6,299.8C1123.1,299.8 1125.1,338.8 1125.6,338.8C1126.5,338.8 1129.8,209.3 1130.7,209.3C1131.4,209.3 1134.5,331.1 1135.3,331.1C1135.9,331.1 1138.5,285.4 1139.1,285.4C1139.5,285.4 1140.8,308.3 1141.2,308.3C1141.6,308.3 1143.3,300.7 1143.7,300.7C1144.1,300.7 1145.8,331.1 1146.3,331.1C1147.2,331.1 1150.8,221.9 1151.7,221.9C1152.5,221.9 1155.6,315.9 1156.4,315.9C1156.9,315.9 1159,277 1159.5,277C1159.9,277 1161.9,292 1162.3,292.2C1162.8,292.4 1164.5,292.7 1164.9,293.1C1165.2,293.4 1166.7,323.5 1167.1,323.5C1168,323.5 1171.7,246.5 1172.7,246.5C1173.5,246.5 1176.8,315.9 1177.6,315.9C1178.1,315.9 1180,292.2 1180.5,292.2C1181,292.2 1183,300.7 1183.5,300.7C1183.9,300.7 1185.6,300.7 1186,300.7C1186.6,300.7 1188.6,323.5 1189.1,323.5C1189.8,323.5 1192.6,240.6 1193.3,240.6C1194.2,240.6 1197.8,315.9 1198.7,315.9C1199.2,315.9 1200.9,292.2 1201.3,292.2C1201.7,292.2 1203.4,315.9 1203.8,315.9C1204.2,315.9 1205.9,300.7 1206.4,300.7C1206.9,300.7 1208.9,323.5 1209.4,323.5C1210.3,323.5 1213.6,234.6 1214.5,234.6C1215.4,234.6 1219,323.5 1219.9,323.5C1220.4,323.5 1222.3,300.7 1222.8,300.7C1223.6,300.7 1226.7,304.5 1227.5,308.3C1227.9,310.3 1229.6,331.1 1230.1,331.1C1231,331.1 1234.7,248.2 1235.6,248.2C1236.5,248.2 1240.2,323.5 1241.1,323.5C1241.5,323.5 1243.2,300.7 1243.6,300.7C1244.3,300.7 1247.1,300.7 1247.8,300.7C1248.4,300.7 1250.7,323.5 1251.2,323.5C1252.1,323.5 1255.7,260 1256.6,260C1257.4,260 1260.6,308.3 1261.4,308.3C1262.1,308.3 1264.9,292.2 1265.6,292.2C1265.9,292.2 1267,315.9 1267.3,315.9C1267.9,315.9 1270.1,300.7 1270.7,300.7C1271.1,300.7 1272.8,315.9 1273.2,315.9C1273.9,315.9 1276.8,268.5 1277.5,268.5C1278,268.5 1280.3,273.6 1280.8,277C1281.3,279.5 1283,298.8 1283.4,300.7C1284.2,304.5 1287.6,308.3 1288.5,308.3C1288.9,308.3 1290.6,285.4 1291,285.4C1291.6,285.4 1293.8,300.7 1294.4,300.7C1295,300.7 1297.6,277 1298.3,277C1298.8,277 1300.7,300.7 1301.2,300.7C1301.6,300.7 1303.3,285.4 1303.7,285.4C1304.3,285.4 1306.5,300.7 1307.1,300.7C1307.8,300.7 1310.6,277 1311.3,277C1311.9,277 1314.1,300.7 1314.7,300.7C1315.4,300.7 1318.2,277 1318.9,277C1319.5,277 1321.8,283.7 1322.3,285.4C1323,287.6 1325.8,300.7 1326.6,300.7C1327.5,300.7 1331.5,250.7 1332.5,250.7C1333,250.7 1335.3,300.7 1335.9,300.7C1336.4,300.7 1338.7,269.3 1339.3,269.3C1339.7,269.3 1341.4,300.7 1341.8,300.7C1342.2,300.7 1343.9,277 1344.3,277C1344.8,277 1346.9,308.3 1347.4,308.3C1348.4,308.3 1352.3,233 1353.3,233C1354,233 1356.8,308.3 1357.5,308.3C1358,308.3 1359.9,269.3 1360.4,269.3C1361.2,269.3 1364.2,281.3 1365,286.1C1365.6,289.7 1367.8,316.4 1368.4,316.4C1369.4,316.4 1373.4,246.4 1374.5,246.4C1375.1,246.4 1377.6,316.4 1378.2,316.4C1378.9,316.4 1381.4,276.7 1382,276.7C1382.5,276.7 1384.4,308.8 1384.9,308.8C1385.2,308.8 1386.4,291.8 1386.7,291.8C1387.2,291.8 1389.1,317.3 1389.6,317.3C1390.5,317.3 1394.3,245.5 1395.2,245.5C1395.9,245.5 1398.4,301.2 1399,301.2C1399.7,301.2 1402.2,285.2 1402.8,285.2C1403.3,285.2 1405.2,308.8 1405.6,308.8C1406.4,308.8 1409.6,308.8 1410.4,308.8C1410.7,308.8 1411.9,287 1412.3,284.2C1413,277.8 1415.9,263.4 1416.6,263.4C1417.3,263.4 1420.1,308.8 1420.8,308.8C1421.2,308.8 1422.8,285.2 1423.2,285.2C1423.8,285.2 1425.9,308.8 1426.4,308.8C1427.4,308.8 1431.2,308.8 1432.1,308.8C1432.9,308.8 1436.1,253 1436.8,253C1437.6,253 1440.8,301.2 1441.6,301.2C1442,301.2 1443.9,285.2 1444.4,285.2C1444.9,285.2 1447.1,308.8 1447.6,308.8C1448,308.8 1449.7,291.8 1450.1,291.8C1450.5,291.8 1452.4,301.2 1452.9,301.2C1453.8,301.2 1457.2,232.2 1458,232.2C1458.7,232.2 1461.6,291.8 1462.4,291.8C1462.8,291.8 1464.7,291.8 1465.2,291.8C1465.7,291.8 1467.6,324.9 1468,324.9C1468.5,324.9 1470.4,308.8 1470.9,308.8C1471.3,308.8 1473.2,308.8 1473.7,308.8C1474.5,308.8 1477.6,233.2 1478.4,233.2C1479.2,233.2 1482.4,301.2 1483.2,301.2C1483.6,301.2 1485.5,284.2 1486,284.2C1486.5,284.2 1488.4,316.4 1488.8,316.4C1489.3,316.4 1491.2,308.8 1491.7,308.8C1492.1,308.8 1494,324.9 1494.5,324.9C1495.4,324.9 1498.8,227.5 1499.6,227.5C1500.6,227.5 1504.8,316.4 1505.8,316.4C1506.2,316.4 1507.4,291.8 1507.7,291.8C1508.5,291.8 1511.7,297.7 1512.5,301.2C1513,303.8 1515.3,324.9 1515.9,324.9C1516.8,324.9 1520.4,254 1521.3,254C1522.1,254 1525,308.8 1525.7,308.8C1526.3,308.8 1528.8,308.8 1529.5,308.8C1529.8,308.8 1531,300.3 1531.4,300.3C1531.8,300.3 1533.7,300.3 1534.2,300.3C1534.5,300.3 1535.8,316.4 1536.1,316.4C1537.1,316.4 1541.1,246.4 1542.1,246.4C1543,246.4 1546.6,300.3 1547.4,300.3C1548.1,300.3 1550.6,285.2 1551.2,285.2C1551.7,285.2 1553.6,290.2 1554.1,291.8C1554.7,293.9 1557.2,308.8 1557.8,308.8C1558.6,308.8 1561.8,271 1562.6,271C1563.2,271 1565.7,274.8 1566.3,278.6C1566.8,281.4 1568.7,316.4 1569.2,316.4C1569.8,316.4 1572.3,300.3 1573,300.3C1573.6,300.3 1576.1,300.8 1576.7,301.2C1577.2,301.6 1579.1,324.9 1579.6,324.9C1580.2,324.9 1582.7,278.6 1583.4,278.6C1583.9,278.6 1586,282.2 1586.6,285.2C1587.3,289.1 1590.2,323.9 1590.9,323.9C1591.5,323.9 1594.1,300.3 1594.7,300.3C1595.2,300.3 1597.1,300.3 1597.5,300.3C1598.2,300.3 1600.7,339.1 1601.3,339.1C1601.8,339.1 1603.7,300.3 1604.1,300.3C1604.8,300.3 1607.3,305.3 1607.9,308.8C1608.5,312 1610.8,339.1 1611.3,339.1C1612.3,339.1 1616.4,285.2 1617.4,285.2C1618,285.2 1620.5,323.9 1621.2,323.9C1621.7,323.9 1623.8,301.2 1624.4,301.2C1625.1,301.2 1628,305.8 1628.7,308.8C1629.3,311.2 1631.6,331.5 1632.1,331.5C1633,331.5 1636.7,278.6 1637.6,278.6C1638.3,278.6 1640.9,339.1 1641.6,339.1C1642.1,339.1 1644.3,308.8 1644.8,308.8C1645.6,308.8 1648.7,312.6 1649.5,316.4C1650,318.6 1651.9,346.6 1652.4,346.6C1653.4,346.6 1657.6,271 1658.6,271C1659.3,271 1662.1,346.6 1662.8,346.6C1663.4,346.6 1665.9,316.4 1666.5,316.4C1667.2,316.4 1669.7,316.4 1670.3,316.4C1670.9,316.4 1673,346.6 1673.5,346.6C1674.5,346.6 1678.3,263.4 1679.2,263.4C1679.9,263.4 1682.8,339.1 1683.5,339.1C1684,339.1 1685.9,308.8 1686.4,308.8C1686.8,308.8 1688.3,318.3 1688.7,320.1" fill="none" stroke="#f00" stroke-width="4.1" stroke-linejoin="round" stroke-linecap="round"/>
<path d="M161,633.8C161.7,639.7 162.9,655.8 163.5,655.8C164,655.8 164.8,623.7 165.2,623.7C166.1,623.7 167.7,626.8 168.6,626.8C169.8,626.8 171.7,624.1 172.9,613.2C173.4,608.4 174.2,556.5 174.7,556.5C175.3,556.5 176.5,615.3 177.1,615.3C178,615.3 179.6,606.9 180.5,606.9C181.4,606.9 183,648.1 183.9,648.1C184.8,648.1 186.3,637.9 187.2,633.8C188.1,629.7 189.7,624.6 190.6,617.4C191.9,607.4 194.1,565.2 195.4,565.2C196.1,565.2 197.5,604.9 198.2,604.9C198.9,604.9 200.1,603.9 200.8,603.9C201.5,603.9 202.6,625.8 203.3,631.8C204.1,639 205.6,652.4 206.4,652.4C207.1,652.4 208.5,630 209.3,629.8C210.2,629.5 211.7,629.4 212.6,627.8C213,627.2 213.6,565.2 214,555C214.8,533.3 216.1,527.9 216.9,527.9C217.5,527.9 218.7,592.4 219.4,592.4C220.1,592.4 221.3,581.9 221.9,581.9C222.6,581.9 223.8,613 224.5,621.6C225.2,630.2 226.4,646.3 227,646.3C227.7,646.3 228.9,622.3 229.6,621.6C230.5,620.6 232,620.6 233,617.4C233.4,615.8 234.2,567.4 234.6,558.3C235.3,544.7 236.5,541.3 237.2,541.3C237.9,541.3 239,582.6 239.7,583.5C240.6,584.6 242.2,584.3 243.1,585.5C243.8,586.3 245,619.4 245.6,627.8C246.5,637.8 247.9,652.4 248.7,652.4C249.5,652.4 250.8,617.3 251.6,617.3C252.7,617.3 254.7,617.3 255.8,617.2C256.4,617.2 257.4,593.6 258,593.6C259,593.6 260.7,613.8 261.7,615.1C262.6,616.2 264.2,616.1 265.1,619.3C265.7,621.3 266.6,649.7 267.1,658.4C267.8,668.7 268.9,689.5 269.5,689.5C270.2,689.5 271.3,657.4 271.9,649.8C273,636.3 275,619.3 276.1,619.3C277,619.3 278.6,633.8 279.5,633.8C280.2,633.8 281.4,623.6 282,623.6C282.9,623.6 284.5,625.5 285.4,631.8C286.7,640.5 288.9,686.1 290.2,686.1C290.9,686.1 292.3,651.6 293.1,644.6C294.2,634.4 296.2,628.8 297.3,628.8C298.4,628.8 300.4,651.5 301.5,651.5C302.4,651.5 304,637.7 304.9,637.7C305.6,637.7 306.8,638.4 307.4,641.2C308.3,644.5 309.7,682.6 310.5,682.6C311.5,682.6 313.2,665.4 314.2,641.2C314.9,624.6 316.1,556.2 316.8,545.4C317.4,534.7 318.6,532 319.3,532C320,532 321.2,532.5 321.8,534.4C322.5,536.2 323.7,589.9 324.4,594.6C325.3,601 326.9,600.3 327.8,603.6C328.9,607.7 330.9,649.8 332,649.8C332.9,649.8 334.5,638.6 335.4,629.8C336.4,619.7 338.2,577.1 339.3,577.1C339.8,577.1 340.8,617.1 341.3,625.8C342,636.6 343.2,646.3 343.8,646.3C344.7,646.3 346.1,624.7 346.9,624.7C348.3,624.7 350.9,663.6 352.3,663.6C353.2,663.6 354.8,636.1 355.7,631.8C356.7,627 358.4,625.8 359.4,625.8C360.8,625.8 363.3,660.2 364.7,660.2C365.7,660.2 367.4,639.4 368.4,639.4C369.4,639.4 371.1,693 372.1,693C373.1,693 375,638.4 376,624.7C377.4,606.2 379.9,578.1 381.3,578.1C382.6,578.1 384.9,684.3 386.2,684.3C387,684.3 388.4,634.8 389.2,634.8C390.2,634.8 391.9,696.4 392.9,696.4C394.1,696.4 396,610.7 397.2,610.7C397.8,610.7 399,625.8 399.7,625.8C400.4,625.8 401.6,604.3 402.2,604.3C403.6,604.3 406,687.8 407.3,687.8C408,687.8 409.2,642.9 409.9,642.9C410.8,642.9 412.3,691.2 413.2,691.2C414.5,691.2 416.6,563.3 417.8,563.3C418.4,563.3 419.4,604.3 420,604.3C420.7,604.3 421.9,578.4 422.6,578.4C423.2,578.4 424.4,593.7 425.1,606.4C426,623.4 427.6,696.4 428.5,696.4C429.2,696.4 430.3,658.4 431,658.4C431.8,658.4 433.3,687.8 434.1,687.8C435.3,687.8 437.4,556.6 438.6,556.6C439.3,556.6 440.5,619.3 441.2,619.3C441.9,619.3 443,593.4 443.7,593.4C444.1,593.4 444.7,593.9 445,595.8C445.3,597.8 445.9,634.7 446.3,639.4C447.1,650.7 448.4,653.5 449.2,653.5C449.9,653.5 451.1,626.1 451.8,626.1C452.4,626.1 453.6,641.4 454.3,641.4C454.8,641.4 455.6,638.2 456,632.1C456.9,619.8 458.5,558.9 459.4,558.9C460.1,558.9 461.3,593.6 461.9,593.6C462.6,593.6 463.8,587.1 464.5,587.1C465.1,587.1 466.3,611.1 467,623.9C467.8,639.3 469.2,694.9 470.1,694.9C470.8,694.9 472.2,646.6 472.9,646.6C473.5,646.6 474.5,662.1 475.1,662.1C475.7,662.1 476.6,568 477.2,558.7C478,544.8 479.4,541.3 480.2,541.3C480.8,541.3 482,602.2 482.6,602.2C483.3,602.2 484.4,584.8 485.1,584.8C485.7,584.8 486.7,613.3 487.3,623.9C488.3,642 490.1,693.2 491,693.2C491.6,693.2 492.7,639.7 493.2,639.7C493.8,639.7 494.9,651.8 495.4,651.8C496.2,651.8 497.6,556 498.3,536.7C499,519.7 500.2,510.5 500.9,510.5C501.5,510.5 502.7,571.6 503.4,571.6C504.1,571.6 505.3,571.5 505.9,571.5C506.6,571.5 507.8,612.6 508.5,623.9C509.4,639 511,667.3 511.9,667.3C512.5,667.3 513.7,626.1 514.4,626.1C514.9,626.1 515.7,632.1 516.1,632.1C516.8,632.1 518,529.7 518.6,514.6C519.5,494.4 521.1,489.4 522,489.4C522.7,489.4 523.9,541.5 524.6,547.3C525.2,553.2 526.4,551.8 527.1,558.2C527.8,564.7 529,612.7 529.6,623.9C531.2,650.2 534,667.3 535.6,667.3C536.5,667.3 538.1,649.6 539,636.1C540.1,619.1 542.1,548.2 543.2,548.2C543.9,548.2 545.1,651.8 545.7,651.8C546.4,651.8 547.6,641.4 548.3,641.4C549.2,641.4 550.8,655.3 551.7,660.4C552.9,667.3 555,686.3 556.2,686.3C556.9,686.3 558.1,602.4 558.8,579.9C559.9,542.5 561.9,476.5 563,476.5C563.8,476.5 565.2,565.6 566,580C566.9,596 568.5,594.6 569.4,602C570.3,609.4 571.9,633.6 572.8,643.1C573.9,654 575.7,677.7 576.7,677.7C577.7,677.7 579.4,583.9 580.4,558.5C581.3,535.3 582.9,493.3 583.8,493.3C584.7,493.3 586.3,564.2 587.2,580.5C588.1,596.7 589.7,605.8 590.6,615.3C591.5,624.8 593.1,643.7 594,651.8C594.9,659.9 596.5,675.9 597.4,675.9C598.3,675.9 599.8,606.9 600.7,580.8C601.6,557.3 603,490.3 603.8,490.3C604.8,490.3 606.5,541 607.5,559.4C608.4,576.1 610,609.5 610.9,621.8C611.8,634.1 613.4,645.8 614.3,651.8C615.3,658.7 617.1,669 618.2,669C619,669 620.3,583.9 621.1,559.9C622,531.5 623.5,475.7 624.4,475.7C625.4,475.7 626.9,540.6 627.8,560.1C628.7,579.6 630.3,611.1 631.2,621.9C631.9,629.9 633.1,631 633.8,636.1C634.7,642.8 636.2,667.3 637.1,667.3C638.3,667.3 640.2,588.2 641.4,560.6C642.3,538.5 643.9,480.6 644.8,480.6C645.7,480.6 647.2,543.4 648.1,560.8C648.8,573.9 650,598.8 650.7,598.8C651.5,598.8 652.8,579.9 653.6,579.9C654.5,579.9 656,641.4 657,641.4C657.8,641.4 659.2,575.9 660,575.9C660.6,575.9 661.6,617.7 662.2,617.7C663.2,617.7 664.9,503.2 665.9,503.2C667.1,503.2 669,556.9 670.2,565.8C671.1,573 672.6,571.3 673.5,578.4C674.7,587.2 676.6,639.7 677.8,639.7C678.5,639.7 679.6,557.9 680.3,557.9C681,557.9 682.2,595.1 682.9,595.1C683.6,595.1 685,543.7 685.7,543.7C686.3,543.7 687.3,576.3 687.9,587C688.6,599.4 689.8,630.1 690.5,630.1C691.3,630.1 692.7,585.1 693.5,585.1C694.3,585.1 695.6,585.5 696.4,587.2C697.1,588.7 698.3,632.1 698.9,632.1C699.8,632.1 701.4,608 702.3,599.6C703.6,587.8 705.8,556.9 707.1,556.9C707.8,556.9 709.2,592.9 709.9,603.7C710.5,612 711.6,630.1 712.1,630.1C713,630.1 714.5,595.7 715.4,595.7C716.2,595.7 717.6,624.1 718.4,624.1C719.5,624.1 721.5,472.9 722.6,472.9C723.5,472.9 725.1,563.9 726,563.9C726.7,563.9 727.9,524 728.6,524C729.7,524 731.7,586.1 732.8,586.3C733.7,586.4 735.3,586.4 736.2,586.4C736.9,586.5 738.3,598.4 739.1,598.4C740.1,598.4 741.9,502.3 743,502.3C743.9,502.3 745.7,573.1 746.7,573.1C747.5,573.1 748.9,557.2 749.7,557.2C750.3,557.2 751.2,573.4 751.8,578.8C752.4,585.6 753.6,602.5 754.3,602.5C755.4,602.5 757.4,600.9 758.5,594.4C759.2,590.6 760.4,565.6 761.1,552.6C762,535.2 763.6,478.5 764.5,478.5C765.1,478.5 766.3,566.3 767,566.3C767.9,566.3 769.5,566.3 770.4,566.3C771.3,566.3 772.9,592.5 773.8,598.3C775.4,608.4 778.1,618.3 779.7,618.3C780.4,618.3 781.6,566.5 782.2,552.2C783,536.9 784.2,508.2 785,508.2C785.8,508.2 787.3,584.2 788.2,584.2C788.8,584.2 790,576.2 790.7,576.2C791.4,576.2 792.6,604 793.2,612.2C794.1,622.1 795.5,643.3 796.3,643.3C797,643.3 798.2,615.8 798.8,614.2C799.4,613 800.3,613.2 800.9,610.2C801.5,606.5 802.7,548.5 803.4,536C804.3,519.3 805.9,509.9 806.8,509.9C807.5,509.9 808.7,580.1 809.3,580.1C810,580.1 811.2,572.1 811.9,572.1C812.5,572.1 813.7,596.4 814.4,604.2C815.2,613 816.5,634.2 817.3,634.2C817.9,634.2 818.9,609.2 819.5,608.2C820.3,606.8 821.7,607.1 822.5,604.2C823.1,602.2 824,564 824.6,551.9C825.3,534.8 826.7,497.6 827.4,497.6C828.3,497.6 829.7,567.9 830.5,567.9C831.1,567.9 832.1,555.9 832.7,555.9C833.2,555.9 834.2,584.7 834.7,592.1C835.5,603.1 837,620.2 837.8,620.2C838.5,620.2 839.9,591.5 840.6,590C841.3,588.7 842.5,588.9 843.2,586C844.2,581.5 846,485.2 847.1,485.2C847.8,485.2 849.2,501.8 850,511.4C850.6,519.8 851.8,551.7 852.5,551.7C853.1,551.7 854.1,551.6 854.7,551.6C855.2,551.6 856.2,583.4 856.7,592C857.5,603.4 858.7,624.2 859.4,624.2C860.1,624.2 861.2,588.7 861.8,585.9C862.5,582.8 863.7,583.6 864.3,579.8C865,576 866.2,527.3 866.9,527.3C867.8,527.3 869.4,533.1 870.3,539.4C871,544.1 872.1,564.4 872.8,565.6C873.5,566.8 874.7,566.5 875.4,567.6C876,568.7 877.2,584.8 877.9,591.9C878.7,599.9 880,624.2 880.8,624.2C881.6,624.2 883,607.2 883.8,591.9C885.2,566.3 887.5,454.5 888.9,454.5C889.8,454.5 891.4,497.3 892.3,510.7C893.2,524.2 894.8,546.5 895.7,555.3C896.3,561.9 897.5,562.9 898.2,571.5C899.1,583 900.7,636.2 901.6,636.2C902.7,636.2 904.7,573.4 905.8,551.1C906.9,530.7 908.7,475.9 909.7,475.9C910.5,475.9 911.8,489.9 912.6,500.2C913.3,509.3 914.5,546.9 915.1,546.9C915.8,546.9 917,542.8 917.7,542.8C918.8,542.8 920.8,626.3 921.9,626.3C923,626.3 925,590 926.1,571.2C927.1,554.7 928.9,495.7 929.9,495.7C930.7,495.7 932.1,528.4 932.9,540.5C933.8,554 935.4,577.5 936.3,591.5C937,602.1 938.2,623.1 938.8,632.2C939.7,644.4 941.3,669.2 942.2,669.2C942.9,669.2 944.1,614.8 944.8,601.7C945.4,588.6 946.6,580.2 947.3,571C948.2,558.7 949.8,519.7 950.7,519.7C951.8,519.7 953.8,554.6 954.9,564.7C955.6,570.8 956.8,579.7 957.5,583.2C958.1,586.6 959.3,585.8 960,591.3C960.7,596.9 961.9,626.3 962.5,626.3C963.2,626.3 964.4,595.4 965.1,595.4C965.8,595.4 966.9,605.7 967.6,605.7C968.7,605.7 970.5,550.1 971.5,550.1C972.7,550.1 974.9,634.2 976.1,634.2C976.8,634.2 977.9,599.5 978.6,599.5C979.7,599.5 981.7,628.3 982.9,628.3C983.8,628.3 985.3,545.7 986.2,545.7C986.9,545.7 988.1,574.6 988.8,574.6C989.7,574.6 991.3,535.2 992.2,535.2C992.8,535.2 994,583.9 994.7,595.2C995.4,606.5 996.6,620.1 997.2,620.1C997.9,620.1 999.1,595.2 999.8,595.2C1000.7,595.2 1002.3,626.3 1003.2,626.3C1004.3,626.3 1006.3,503.8 1007.4,503.8C1008.1,503.8 1009.3,561.9 1009.9,561.9C1010.6,561.9 1011.8,541 1012.5,541C1013.2,541 1014.3,554 1015,566C1015.8,579.6 1017.1,639.8 1017.9,639.8C1018.7,639.8 1020.1,609.6 1020.9,609.6C1021.8,609.6 1023.2,643.3 1024,643.3C1025.1,643.3 1027.1,505.3 1028.2,505.3C1029,505.3 1030.3,580.4 1031.1,580.4C1031.8,580.4 1033,565.7 1033.6,565.7C1034.3,565.7 1035.5,601.1 1036.2,611.7C1036.9,622.2 1038,645 1038.7,645C1039.6,645 1041.2,605.4 1042.1,605.4C1042.9,605.4 1044.2,622.1 1045,622.1C1046,622.1 1047.7,540.4 1048.7,540.4C1049.5,540.4 1051,580.2 1051.8,580.2C1052.4,580.2 1053.6,569.6 1054.3,569.6C1055,569.6 1056.2,602.1 1056.9,611.6C1057.6,622.4 1059,645 1059.7,645C1060.3,645 1061.3,609.5 1061.9,609.5C1062.8,609.5 1064.4,613.7 1065.3,613.7C1066,613.7 1067.2,566.7 1067.9,548.4C1068.5,530.2 1069.7,476.8 1070.4,476.8C1071.1,476.8 1072.3,565.2 1072.9,565.2C1073.6,565.2 1074.8,537.8 1075.5,537.8C1076.1,537.8 1077.3,576.6 1078,590.4C1078.7,604.3 1079.9,632.5 1080.6,641.6C1081.5,653.7 1083,664 1083.9,664C1084.7,664 1086.2,613.3 1087,590.4C1087.9,564.9 1089.5,481.4 1090.4,481.4C1090.9,481.4 1091.9,568.5 1092.4,590.3C1092.9,612.1 1093.9,645 1094.4,645C1095,645 1096,611.5 1096.6,611.5C1097.5,611.5 1099.1,632.3 1100,641.6C1100.7,648.5 1101.9,665.9 1102.6,670.9C1103.2,676 1104.4,679.6 1105.1,679.6C1105.9,679.6 1107.2,575.3 1108,547.7C1108.9,515.3 1110.5,459.5 1111.4,459.5C1112.2,459.5 1113.6,607.2 1114.4,607.2C1115.1,607.2 1116.3,590.3 1116.9,590.3C1117.6,590.3 1118.8,605.3 1119.5,611.5C1120.3,618.9 1121.7,636.6 1122.5,641.6C1123.3,646.3 1124.6,648.5 1125.4,648.5C1126.3,648.5 1127.9,552.3 1128.8,527C1129.7,501.7 1131.3,458.5 1132.2,458.5C1132.9,458.5 1134,569 1134.7,575.7C1135.4,582.3 1136.6,582.9 1137.3,584.2C1138.2,585.9 1139.7,598.3 1140.6,605.2C1141.3,610.4 1142.5,628.3 1143.2,628.3C1144.3,628.3 1146.3,624.1 1147.4,607.4C1148.1,597.4 1149.3,533.7 1150,519.3C1150.9,500 1152.4,492.1 1153.3,492.1C1154.2,492.1 1155.8,569.8 1156.7,569.8C1157.2,569.8 1158,561.4 1158.4,561.4C1159.1,561.4 1160.3,592.6 1161,601.2C1161.7,611 1163.1,629.3 1163.8,629.3C1164.7,629.3 1166.1,623.6 1166.9,613.8C1167.8,602.9 1169.4,571.3 1170.3,549.1C1171.1,529.2 1172.5,457.6 1173.3,457.6C1174.3,457.6 1176.1,566 1177,566C1177.7,566 1178.9,555.6 1179.6,555.6C1180.3,555.6 1181.4,582.9 1182.1,591C1183,601.7 1184.6,624.2 1185.5,624.2C1186.4,624.2 1188,621.7 1188.9,611.8C1189.4,605.8 1190.4,520.1 1190.9,508.2C1191.8,488.5 1193.4,483.5 1194.3,483.5C1195.1,483.5 1196.5,529.4 1197.4,549.8C1198,566.8 1199.2,622.1 1199.9,622.2C1200.6,622.2 1201.8,622.2 1202.4,622.2C1203.1,622.2 1204.3,644.4 1205,650.2C1205.9,658 1207.5,670.9 1208.4,670.9C1209,670.9 1210.2,610.4 1210.9,591.3C1211.8,565.8 1213.4,506 1214.3,506C1215.2,506 1216.8,532.8 1217.7,554.4C1218.4,570.6 1219.5,639.8 1220.2,639.8C1220.9,639.8 1222.1,632.2 1222.8,632.2C1223.7,632.2 1225.2,645.2 1226.1,650.2C1227,654.7 1228.4,667.5 1229.2,667.5C1230,667.5 1231.3,606.7 1232.1,591.5C1233,573.6 1234.5,546.7 1235.5,546.7C1236.4,546.7 1237.9,564.7 1238.8,571.2C1239.7,577.8 1241.3,588.9 1242.2,595.7C1243.1,602.5 1244.7,617.2 1245.6,622.2C1246.3,625.9 1247.5,630.3 1248.1,630.3C1249.1,630.3 1250.6,614 1251.5,601.9C1252.6,588 1254.4,529.9 1255.4,529.9C1256.4,529.9 1258.2,595.9 1259.2,595.9C1260.3,595.9 1262.3,591.8 1263.4,591.8C1264.1,591.8 1265.2,607.2 1265.9,612.1C1266.6,617 1267.8,628.3 1268.5,628.3C1269.4,628.3 1270.9,610.8 1271.8,602C1273,591.1 1275,552.6 1276.1,552.6C1277.3,552.6 1279.4,616.2 1280.7,616.2C1281.2,616.2 1282.3,588 1282.9,588C1283.5,588 1284.7,592 1285.4,596C1286.3,601.5 1287.9,626.3 1288.8,626.3C1289.5,626.3 1290.6,602.1 1291.3,602.1C1292,602.1 1293.2,602.1 1293.9,602.1C1294.8,602.1 1296.3,558 1297.2,558C1297.9,558 1299.1,586.4 1299.8,596.2C1300.4,604.6 1301.4,626.3 1302,626.3C1302.8,626.3 1304.1,592.2 1304.9,592.2C1305.3,592.2 1306.1,599.1 1306.6,602.2C1307.2,606.9 1308.4,622.3 1309.1,622.3C1309.9,622.3 1311.3,554.2 1312.1,554.2C1312.9,554.2 1314.3,588.3 1315,588.3C1315.9,588.3 1317.5,572.3 1318.4,572.3C1319.1,572.3 1320.3,584.4 1320.9,592.3C1321.5,599.1 1322.6,626.3 1323.1,626.3C1323.9,626.3 1325.3,604.3 1326,604.3C1326.9,604.3 1328.5,622.3 1329.4,622.3C1330.4,622.3 1332.3,554.6 1333.3,554.6C1334.1,554.6 1335.4,588.5 1336.2,588.5C1336.9,588.5 1338.3,567.6 1339.1,567.6C1339.7,567.6 1340.9,585.2 1341.6,592.5C1342.5,602.2 1344.1,632.4 1345,632.4C1345.5,632.4 1346.5,604.1 1347,604.1C1347.8,604.1 1349.2,618.2 1350,618.2C1351.2,618.2 1353.2,515.1 1354.4,515.1C1355.1,515.1 1356.3,573.7 1357,573.7C1357.7,573.7 1358.8,559.7 1359.4,559.7C1360.1,559.7 1361.3,590.3 1362,601.9C1362.8,615.2 1364.2,653.5 1365,653.5C1365.8,653.5 1367.2,604.3 1368,604.3C1368.8,604.3 1370.2,608.9 1371,608.9C1371.6,608.9 1372.5,545.1 1373,539C1373.7,531.6 1374.8,529.7 1375.5,529.7C1376.1,529.7 1377.4,574 1378.1,574C1378.9,574 1380.3,574 1381.1,574.1C1381.9,574.1 1383.3,615.7 1384.1,625.3C1384.6,631.7 1385.5,639.2 1386.1,639.2C1386.6,639.2 1387.5,604.4 1388.1,604.4C1389.1,604.4 1391,606.7 1392.1,606.7C1392.6,606.7 1393.5,583.5 1394.1,574.2C1394.7,563.2 1395.8,530.2 1396.5,530.2C1397.2,530.2 1398.4,571 1399.1,572C1399.9,573.1 1401.3,572.8 1402.1,574.3C1402.6,575.4 1403.6,609.7 1404.1,618.3C1404.8,629.6 1406,645.3 1406.7,645.3C1407.3,645.3 1408.5,603.7 1409.1,602.2C1410.2,599.6 1412,600.2 1413.1,597.6C1414.1,595.2 1415.8,530.7 1416.7,530.7C1417.6,530.7 1419.2,575.7 1420.1,576.9C1420.9,578 1422.3,577.7 1423.1,579.2C1423.7,580.2 1424.6,611.1 1425.1,618.4C1425.8,627.8 1427,638.1 1427.7,638.1C1428.4,638.1 1429.5,600 1430.1,600C1431.4,600 1433.5,606.9 1434.8,606.9C1435.7,606.9 1437.3,522 1438.2,522C1439.2,522 1441.1,572.6 1442.2,574.5C1442.7,575.4 1443.6,575.2 1444.2,576.6C1444.7,578.1 1445.6,610.7 1446.2,618.3C1446.9,628.2 1448.1,638.1 1448.8,638.1C1449.4,638.1 1450.5,601.9 1451.2,601.8C1452,601.8 1453.4,601.8 1454.2,601.7C1455.3,601.6 1457.1,516.3 1458.2,516.3C1459,516.3 1460.4,545.7 1461.2,553.9C1462,562 1463.4,566.3 1464.2,577.4C1465,588.5 1466.4,622.1 1467.2,637.1C1468,652.1 1469.4,690.3 1470.2,690.3C1471,690.3 1472.4,662.5 1473.2,647.3C1474,632.2 1475.4,593.2 1476.2,576.5C1477,559.9 1478.4,522.5 1479.2,522.5C1480.3,522.5 1482.2,567.8 1483.2,588.3C1483.8,598.6 1484.7,624 1485.2,632.4C1486.8,657.4 1489.6,688.2 1491.2,688.2C1492.3,688.2 1494.2,681.6 1495.3,657.6C1496.4,631.1 1498.5,492.8 1499.7,492.8C1500.6,492.8 1502.3,520.2 1503.3,537.6C1503.8,547.3 1504.7,576.6 1505.3,585.4C1506.1,598.6 1507.5,605.2 1508.3,612.9C1509.3,623.2 1511.2,653.5 1512.3,653.5C1513.2,653.5 1514.8,629.5 1515.7,613.1C1516.8,592.9 1518.8,511 1519.9,511C1520.8,511 1522.4,577.2 1523.3,577.2C1524.1,577.2 1525.5,567.6 1526.3,567.6C1527.1,567.6 1528.5,613.7 1529.3,625.3C1530.2,638.4 1531.8,658.6 1532.7,658.6C1533.7,658.6 1535.4,628.7 1536.3,613.3C1537.4,596.2 1539.3,535.3 1540.3,535.3C1541.1,535.3 1542.5,589.3 1543.3,589.3C1544.4,589.3 1546.3,589.3 1547.3,589.3C1548.1,589.3 1549.5,622 1550.3,630C1551.2,638 1552.6,649.4 1553.4,649.4C1554.2,649.4 1555.6,588.3 1556.4,572.6C1557.6,548.4 1559.7,509.2 1561,509.2C1561.9,509.2 1563.5,561 1564.4,577.3C1565.2,591.7 1566.6,621.7 1567.4,625.3C1568.2,628.8 1569.6,628.7 1570.4,630C1571.2,631.3 1572.6,645.3 1573.4,645.3C1574.2,645.3 1575.6,543.1 1576.4,543.1C1577.2,543.1 1578.6,586.6 1579.4,586.6C1580.2,586.6 1581.6,535.6 1582.4,535.6C1583.2,535.6 1584.6,568.8 1585.4,576.7C1586.5,587.2 1588.3,600.9 1589.4,600.9C1589.9,600.9 1590.9,598.5 1591.4,598.5C1592.1,598.5 1593.3,617.9 1594,617.9C1594.8,617.9 1596.1,551.9 1596.8,551.9C1597.5,551.9 1598.7,583.7 1599.4,583.7C1600.3,583.7 1601.9,556.6 1602.8,556.6C1603.5,556.6 1604.7,584.6 1605.4,590.9C1606.5,600.5 1608.4,607 1609.4,610.5C1610.3,613.1 1611.7,613.2 1612.5,615.4C1613.1,617.3 1614.4,625.3 1615.1,625.3C1616,625.3 1617.6,531.2 1618.5,531.2C1619.3,531.2 1620.7,627.6 1621.5,627.6C1622.3,627.6 1623.7,575.6 1624.5,575.6C1625.3,575.6 1626.7,616.3 1627.5,625.3C1628,631.3 1628.9,631.4 1629.5,637.1C1630.1,643.9 1631.2,673.9 1631.9,673.9C1632.8,673.9 1634.5,620 1635.5,600.3C1636.4,581.7 1638,530.2 1638.9,530.2C1639.9,530.2 1641.5,649.4 1642.5,649.4C1643.1,649.4 1644.3,607.7 1644.9,607.7C1645.6,607.7 1646.8,624.8 1647.5,630C1648.3,636 1649.7,644 1650.5,649.4C1651.6,656.5 1653.5,677 1654.5,677C1655.9,677 1658.2,545.1 1659.5,545.1C1660.3,545.1 1661.7,637.1 1662.5,637.1C1663.2,637.1 1664.4,615.2 1665.1,615.2C1665.8,615.2 1666.9,638.3 1667.5,645.3C1668.2,652.3 1669.3,667.8 1670,667.8C1670.6,667.8 1671.9,653.5 1672.6,653.5C1673.4,653.5 1674.8,655.5 1675.6,655.5C1676.9,655.5 1679.2,565.2 1680.6,565.2C1681.4,565.2 1682.8,625.3 1683.6,625.3C1684.2,625.3 1685.3,620.2 1686,620.2C1686.5,620.2 1687.4,640.9 1688,648.4" fill="none" stroke="#000" stroke-width="4.1" stroke-linejoin="round" stroke-linecap="round"/>
<path d="M161,632.5C161.7,638.2 162.9,653.7 163.5,653.7C164,653.7 164.8,624.1 165.2,624.1C166.1,624.1 167.7,626.6 168.6,626.6C169.8,626.6 171.7,624.4 172.9,615.6C173.4,611.7 174.2,569.9 174.7,569.9C175.3,569.9 176.5,617.3 177.1,617.3C178,617.3 179.6,610.5 180.5,610.5C181.4,610.5 183,646.1 183.9,646.1C184.8,646.1 186.3,636.1 187.2,632.5C188.1,628.9 189.7,624.8 190.6,619C191.9,610.8 194.1,576.7 195.4,576.7C196.1,576.7 197.5,608.8 198.2,608.8C198.9,608.8 200.1,608 200.8,608C201.5,608 202.6,625.6 203.3,630.8C204.1,637.1 205.6,650.3 206.4,650.3C207.1,650.3 208.5,629.3 209.3,629.1C210.2,628.9 211.7,628.8 212.6,627.4C213,626.9 213.6,576.5 214,568.2C214.8,550.6 216.1,546.2 216.9,546.2C217.5,546.2 218.7,598.7 219.4,598.7C220.1,598.7 221.3,590.2 221.9,590.2C222.6,590.2 223.8,615.1 224.5,622.4C225.2,629.6 226.4,644.4 227,644.4C227.7,644.4 228.9,623 229.6,622.4C230.5,621.5 232,621.5 233,619C233.4,617.7 234.2,578.8 234.6,571.6C235.3,560.7 236.5,558 237.2,558C237.9,558 239,591.2 239.7,591.9C240.6,592.8 242.2,592.6 243.1,593.6C243.8,594.3 245,620.4 245.6,627.4C246.5,635.9 247.9,650.3 248.7,650.3C249.5,650.3 250.8,619 251.6,619C252.7,619 254.7,619 255.8,619C256.4,619 257.4,600.4 258,600.4C259,600.4 260.7,616.4 261.7,617.3C262.6,618.1 264.2,618.1 265.1,620.7C265.7,622.2 266.6,648 267.1,656.2C267.8,665.8 268.9,686.7 269.5,686.7C270.2,686.7 271.3,655 271.9,647.8C273,634.9 275,620.7 276.1,620.7C277,620.7 278.6,632.5 279.5,632.5C280.2,632.5 281.4,624.1 282,624.1C282.9,624.1 284.5,625.4 285.4,630.8C286.7,638.4 288.9,683.3 290.2,683.3C290.9,683.3 292.3,649.4 293.1,642.7C294.2,632.8 296.2,628.3 297.3,628.3C298.4,628.3 300.4,649.4 301.5,649.4C302.4,649.4 304,635.9 304.9,635.9C305.6,635.9 306.8,636.6 307.4,639.3C308.3,642.5 309.7,679.9 310.5,679.9C311.5,679.9 313.2,659.3 314.2,639.3C314.9,625.7 316.1,572.9 316.8,564.8C317.4,556.7 318.6,554.6 319.3,554.6C320,554.6 321.2,555 321.8,556.3C322.5,557.7 323.7,598.5 324.4,602C325.3,606.8 326.9,606.2 327.8,608.8C328.9,612.1 330.9,647.8 332,647.8C332.9,647.8 334.5,636.3 335.4,629.1C336.4,620.9 338.2,588.5 339.3,588.5C339.8,588.5 340.8,618.8 341.3,625.7C342,634.4 343.2,644.4 343.8,644.4C344.7,644.4 346.1,624.9 346.9,624.9C348.3,624.9 350.9,661.3 352.3,661.3C353.2,661.3 354.8,634.5 355.7,630.8C356.7,626.8 358.4,625.7 359.4,625.7C360.8,625.7 363.3,657.9 364.7,657.9C365.7,657.9 367.4,637.6 368.4,637.6C369.4,637.6 371.1,690.1 372.1,690.1C373.1,690.1 375,637.2 376,624.9C377.4,608.3 379.9,588.5 381.3,588.5C382.6,588.5 384.9,681.6 386.2,681.6C387,681.6 388.4,633.4 389.2,633.4C390.2,633.4 391.9,693.5 392.9,693.5C394.1,693.5 396,613.9 397.2,613.9C397.8,613.9 399,625.7 399.7,625.7C400.4,625.7 401.6,608.8 402.2,608.8C403.6,608.8 406,685 407.3,685C408,685 409.2,641 409.9,641C410.8,641 412.3,688.4 413.2,688.4C414.5,688.4 416.6,576.7 417.8,576.7C418.4,576.7 419.4,608.8 420,608.8C420.7,608.8 421.9,588.5 422.6,588.5C423.2,588.5 424.4,599.3 425.1,610.5C426,625.5 427.6,693.5 428.5,693.5C429.2,693.5 430.3,656.2 431,656.2C431.8,656.2 433.3,685 434.1,685C435.3,685 437.4,571.6 438.6,571.6C439.3,571.6 440.5,620.7 441.2,620.7C441.9,620.7 443,600.4 443.7,600.4C444.1,600.4 444.7,600.7 445,602.3C445.3,603.8 445.9,632.9 446.3,637.6C447.1,648.6 448.4,651.4 449.2,651.4C449.9,651.4 451.1,626 451.8,626C452.4,626 453.6,639.5 454.3,639.5C454.8,639.5 455.6,636 456,631.1C456.9,621.1 458.5,573.5 459.4,573.5C460.1,573.5 461.3,600.6 461.9,600.6C462.6,600.6 463.8,595.5 464.5,595.5C465.1,595.5 466.3,612.9 467,624.3C467.8,637.9 469.2,692 470.1,692C470.8,692 472.2,644.6 472.9,644.6C473.5,644.6 474.5,659.8 475.1,659.8C475.7,659.8 476.6,580.7 477.2,573.5C478,562.7 479.4,560 480.2,560C480.8,560 482,607.4 482.6,607.4C483.3,607.4 484.4,593.8 485.1,593.8C485.7,593.8 486.7,615 487.3,624.3C488.3,640 490.1,690.3 491,690.3C491.6,690.3 492.7,637.8 493.2,637.8C493.8,637.8 494.9,649.7 495.4,649.7C496.2,649.7 497.6,572.1 498.3,556.6C499,542.9 500.2,536.3 500.9,536.3C501.5,536.3 502.7,583.7 503.4,583.7C504.1,583.7 505.3,583.7 505.9,583.7C506.6,583.7 507.8,614.8 508.5,624.3C509.4,636.9 511,664.9 511.9,664.9C512.5,664.9 513.7,626 514.4,626C514.9,626 515.7,631.1 516.1,631.1C516.8,631.1 518,551.3 518.6,539.6C519.5,524.1 521.1,520.2 522,520.2C522.7,520.2 523.9,560.5 524.6,565C525.2,569.6 526.4,568.5 527.1,573.5C527.8,578.5 529,615.2 529.6,624.3C531.2,645.5 534,664.9 535.6,664.9C536.5,664.9 538.1,645.8 539,634.4C540.1,620.2 542.1,565.9 543.2,565.9C543.9,565.9 545.1,649.7 545.7,649.7C546.4,649.7 547.6,639.5 548.3,639.5C549.2,639.5 550.8,653.2 551.7,658.1C552.9,664.9 555,683.5 556.2,683.5C556.9,683.5 558.1,609.2 558.8,590.4C559.9,559.1 561.9,510.9 563,510.9C563.8,510.9 565.2,579.5 566,590.4C566.9,602.6 568.5,601.5 569.4,607.4C570.3,613.2 571.9,632.8 572.8,641.2C573.9,650.9 575.7,675.1 576.7,675.1C577.7,675.1 579.4,594.5 580.4,573.5C581.3,554.4 582.9,522.7 583.8,522.7C584.7,522.7 586.3,577.8 587.2,590.4C588.1,603.1 589.7,609.6 590.6,617.5C591.5,625.4 593.1,642.2 594,649.7C594.9,657.1 596.5,673.4 597.4,673.4C598.3,673.4 599.8,612 600.7,590.4C601.6,571 603,519.3 603.8,519.3C604.8,519.3 606.5,559.1 607.5,573.5C608.4,586.6 610,612.4 610.9,622.6C611.8,632.8 613.4,644.1 614.3,649.7C615.3,656.1 617.1,666.6 618.2,666.6C619,666.6 620.3,593.5 621.1,573.5C622,550 623.5,506.6 624.4,506.6C625.4,506.6 626.9,558 627.8,573.5C628.7,589 630.3,613.9 631.2,622.6C631.9,629.1 633.1,629.8 633.8,634.4C634.7,640.6 636.2,664.9 637.1,664.9C638.3,664.9 640.2,596.4 641.4,573.5C642.3,555.2 643.9,509.2 644.8,509.2C645.7,509.2 647.2,559.5 648.1,573.5C648.8,584 650,604 650.7,604C651.5,604 652.8,588.7 653.6,588.7C654.5,588.7 656,639.5 657,639.5C657.8,639.5 659.2,585.4 660,585.4C660.6,585.4 661.6,619.2 662.2,619.2C663.2,619.2 664.9,526.1 665.9,526.1C667.1,526.1 669,569.7 670.2,576.9C671.1,582.6 672.6,581.3 673.5,587C674.7,594.2 676.6,637.8 677.8,637.8C678.5,637.8 679.6,570.1 680.3,570.1C681,570.1 682.2,600.6 682.9,600.6C683.6,600.6 685,558.3 685.7,558.3C686.3,558.3 687.3,585 687.9,593.8C688.6,604 689.8,629.4 690.5,629.4C691.3,629.4 692.7,592.1 693.5,592.1C694.3,592.1 695.6,592.5 696.4,593.8C697.1,595 698.3,631.1 698.9,631.1C699.8,631.1 701.4,611 702.3,604C703.6,594.2 705.8,568.4 707.1,568.4C707.8,568.4 709.2,598.3 709.9,607.4C710.5,614.3 711.6,629.4 712.1,629.4C713,629.4 714.5,600.6 715.4,600.6C716.2,600.6 717.6,624.3 718.4,624.3C719.5,624.3 721.5,497.3 722.6,497.3C723.5,497.3 725.1,573.5 726,573.5C726.7,573.5 727.9,539.6 728.6,539.6C729.7,539.6 731.7,592.1 732.8,592.1C733.7,592.1 735.3,592.1 736.2,592.1C736.9,592.1 738.3,602.3 739.1,602.3C740.1,602.3 741.9,519.3 743,519.3C743.9,519.3 745.7,580.4 746.7,580.4C747.5,580.4 748.9,566.9 749.7,566.9C750.3,566.9 751.2,580.9 751.8,585.5C752.4,591.3 753.6,605.8 754.3,605.8C755.4,605.8 757.4,604.5 758.5,599.1C759.2,595.8 760.4,574.5 761.1,563.5C762,548.8 763.6,500.9 764.5,500.9C765.1,500.9 766.3,575.4 767,575.4C767.9,575.4 769.5,575.4 770.4,575.4C771.3,575.4 772.9,597.5 773.8,602.4C775.4,611 778.1,619.4 779.7,619.4C780.4,619.4 781.6,575.6 782.2,563.5C783,550.6 784.2,526.3 785,526.3C785.8,526.3 787.3,590.6 788.2,590.6C788.8,590.6 790,583.8 790.7,583.8C791.4,583.8 792.6,607.2 793.2,614.3C794.1,622.8 795.5,641.4 796.3,641.4C797,641.4 798.2,617.4 798.8,616C799.4,614.9 800.3,615.1 800.9,612.6C801.5,609.5 802.7,560.5 803.4,550C804.3,535.9 805.9,528 806.8,528C807.5,528 808.7,587.2 809.3,587.2C810,587.2 811.2,580.4 811.9,580.4C812.5,580.4 813.7,600.9 814.4,607.5C815.2,615 816.5,632.9 817.3,632.9C817.9,632.9 818.9,611.8 819.5,610.9C820.3,609.7 821.7,610 822.5,607.5C823.1,605.9 824,573.7 824.6,563.5C825.3,549.1 826.7,517.8 827.4,517.8C828.3,517.8 829.7,577 830.5,577C831.1,577 832.1,566.9 832.7,566.9C833.2,566.9 834.2,591.2 834.7,597.4C835.5,606.6 837,621.1 837.8,621.1C838.5,621.1 839.9,596.9 840.6,595.7C841.3,594.6 842.5,594.8 843.2,592.3C844.2,588.5 846,507.6 847.1,507.6C847.8,507.6 849.2,521.6 850,529.6C850.6,536.7 851.8,563.5 852.5,563.5C853.1,563.5 854.1,563.5 854.7,563.5C855.2,563.5 856.2,590.1 856.7,597.4C857.5,607 858.7,624.4 859.4,624.4C860.1,624.4 861.2,594.7 861.8,592.3C862.5,589.7 863.7,590.4 864.3,587.2C865,584 866.2,543.2 866.9,543.2C867.8,543.2 869.4,548.1 870.3,553.3C871,557.3 872.1,574.4 872.8,575.4C873.5,576.3 874.7,576.1 875.4,577C876,578 877.2,591.5 877.9,597.4C878.7,604 880,624.4 880.8,624.4C881.6,624.4 883,610.3 883.8,597.4C885.2,575.8 887.5,480.6 888.9,480.6C889.8,480.6 891.4,518.1 892.3,529.6C893.2,541.2 894.8,559.5 895.7,566.9C896.3,572.4 897.5,573.2 898.2,580.4C899.1,590.1 900.7,634.6 901.6,634.6C902.7,634.6 904.7,582.1 905.8,563.5C906.9,546.4 908.7,500.9 909.7,500.9C910.5,500.9 911.8,512.6 912.6,521.2C913.3,528.8 914.5,560.1 915.1,560.1C915.8,560.1 917,556.7 917.7,556.7C918.8,556.7 920.8,626.1 921.9,626.1C923,626.1 925,596 926.1,580.4C927.1,566.7 928.9,517.8 929.9,517.8C930.7,517.8 932.1,545 932.9,555C933.8,566.2 935.4,585.7 936.3,597.4C937,606.1 938.2,623.2 938.8,631.2C939.7,642 941.3,666.8 942.2,666.8C942.9,666.8 944.1,617.3 944.8,605.8C945.4,594.3 946.6,588.1 947.3,580.4C948.2,570.3 949.8,538.1 950.7,538.1C951.8,538.1 953.8,567 954.9,575.4C955.6,580.4 956.8,587.7 957.5,590.6C958.1,593.4 959.3,592.8 960,597.4C960.7,602 961.9,626.1 962.5,626.1C963.2,626.1 964.4,600.7 965.1,600.7C965.8,600.7 966.9,609.2 967.6,609.2C968.7,609.2 970.5,563.5 971.5,563.5C972.7,563.5 974.9,632.9 976.1,632.9C976.8,632.9 977.9,604.1 978.6,604.1C979.7,604.1 981.7,627.8 982.9,627.8C983.8,627.8 985.3,560.1 986.2,560.1C986.9,560.1 988.1,583.8 988.8,583.8C989.7,583.8 991.3,551.7 992.2,551.7C992.8,551.7 994,591.5 994.7,600.7C995.4,610 996.6,621.1 997.2,621.1C997.9,621.1 999.1,600.7 999.8,600.7C1000.7,600.7 1002.3,626.1 1003.2,626.1C1004.3,626.1 1006.3,526.3 1007.4,526.3C1008.1,526.3 1009.3,573.7 1009.9,573.7C1010.6,573.7 1011.8,556.7 1012.5,556.7C1013.2,556.7 1014.3,567.2 1015,577C1015.8,588.2 1017.1,638 1017.9,638C1018.7,638 1020.1,612.6 1020.9,612.6C1021.8,612.6 1023.2,641.4 1024,641.4C1025.1,641.4 1027.1,528 1028.2,528C1029,528 1030.3,588.9 1031.1,588.9C1031.8,588.9 1033,577 1033.6,577C1034.3,577 1035.5,605.5 1036.2,614.3C1036.9,623.1 1038,643.1 1038.7,643.1C1039.6,643.1 1041.2,609.2 1042.1,609.2C1042.9,609.2 1044.2,622.8 1045,622.8C1046,622.8 1047.7,556.7 1048.7,556.7C1049.5,556.7 1051,588.9 1051.8,588.9C1052.4,588.9 1053.6,580.4 1054.3,580.4C1055,580.4 1056.2,606.4 1056.9,614.3C1057.6,623.2 1059,643.1 1059.7,643.1C1060.3,643.1 1061.3,612.6 1061.9,612.6C1062.8,612.6 1064.4,616 1065.3,616C1066,616 1067.2,578.2 1067.9,563.5C1068.5,548.8 1069.7,505.9 1070.4,505.9C1071.1,505.9 1072.3,577 1072.9,577C1073.6,577 1074.8,555 1075.5,555C1076.1,555 1077.3,586.1 1078,597.4C1078.7,608.6 1079.9,631.8 1080.6,639.7C1081.5,650.1 1083,661.7 1083.9,661.7C1084.7,661.7 1086.2,616.4 1087,597.4C1087.9,576.2 1089.5,510.2 1090.4,510.2C1090.9,510.2 1091.9,579.6 1092.4,597.4C1092.9,615.1 1093.9,643.1 1094.4,643.1C1095,643.1 1096,614.3 1096.6,614.3C1097.5,614.3 1099.1,631.2 1100,639.7C1100.7,646.1 1101.9,663.5 1102.6,668.5C1103.2,673.4 1104.4,676.9 1105.1,676.9C1105.9,676.9 1107.2,586.6 1108,563.5C1108.9,536.3 1110.5,493.2 1111.4,493.2C1112.2,493.2 1113.6,610.9 1114.4,610.9C1115.1,610.9 1116.3,597.4 1116.9,597.4C1117.6,597.4 1118.8,609.2 1119.5,614.3C1120.3,620.4 1121.7,635.3 1122.5,639.7C1123.3,643.8 1124.6,646.5 1125.4,646.5C1126.3,646.5 1127.9,567.2 1128.8,546.6C1129.7,525.9 1131.3,491.6 1132.2,491.6C1132.9,491.6 1134,580.2 1134.7,585.5C1135.4,590.8 1136.6,591.3 1137.3,592.3C1138.2,593.7 1139.7,603.6 1140.6,609.2C1141.3,613.4 1142.5,627.8 1143.2,627.8C1144.3,627.8 1146.3,624.4 1147.4,610.9C1148.1,602.8 1149.3,551.5 1150,539.8C1150.9,524.2 1152.4,517.8 1153.3,517.8C1154.2,517.8 1155.8,580.4 1156.7,580.4C1157.2,580.4 1158,573.7 1158.4,573.7C1159.1,573.7 1160.3,598.8 1161,605.8C1161.7,613.7 1163.1,628.7 1163.8,628.7C1164.7,628.7 1166.1,624 1166.9,616C1167.8,607.1 1169.4,581.5 1170.3,563.5C1171.1,547.3 1172.5,489 1173.3,489C1174.3,489 1176.1,577 1177,577C1177.7,577 1178.9,568.6 1179.6,568.6C1180.3,568.6 1181.4,590.8 1182.1,597.4C1183,606.1 1184.6,624.4 1185.5,624.4C1186.4,624.4 1188,622.4 1188.9,614.3C1189.4,609.4 1190.4,539.4 1190.9,529.6C1191.8,513.4 1193.4,509.3 1194.3,509.3C1195.1,509.3 1196.5,546.8 1197.4,563.5C1198,577.4 1199.2,622.8 1199.9,622.8C1200.6,622.8 1201.8,622.8 1202.4,622.8C1203.1,622.8 1204.3,642.7 1205,648.1C1205.9,655.4 1207.5,668.5 1208.4,668.5C1209,668.5 1210.2,613.9 1210.9,597.4C1211.8,575.4 1213.4,527.1 1214.3,527.1C1215.2,527.1 1216.8,548.9 1217.7,566.9C1218.4,580.3 1219.5,638 1220.2,638C1220.9,638 1222.1,631.2 1222.8,631.2C1223.7,631.2 1225.2,643.4 1226.1,648.1C1227,652.4 1228.4,665.1 1229.2,665.1C1230,665.1 1231.3,610.6 1232.1,597.4C1233,581.8 1234.5,560.1 1235.5,560.1C1236.4,560.1 1237.9,575 1238.8,580.4C1239.7,585.8 1241.3,595.1 1242.2,600.7C1243.1,606.4 1244.7,618.6 1245.6,622.8C1246.3,625.9 1247.5,629.5 1248.1,629.5C1249.1,629.5 1250.6,616 1251.5,605.8C1252.6,594.2 1254.4,545.7 1255.4,545.7C1256.4,545.7 1258.2,600.7 1259.2,600.7C1260.3,600.7 1262.3,597.4 1263.4,597.4C1264.1,597.4 1265.2,610.2 1265.9,614.3C1266.6,618.4 1267.8,627.8 1268.5,627.8C1269.4,627.8 1270.9,613.2 1271.8,605.8C1273,596.6 1275,564.3 1276.1,564.3C1277.3,564.3 1279.4,617.7 1280.7,617.7C1281.2,617.7 1282.3,594 1282.9,594C1283.5,594 1284.7,597.3 1285.4,600.7C1286.3,605.3 1287.9,626.1 1288.8,626.1C1289.5,626.1 1290.6,605.8 1291.3,605.8C1292,605.8 1293.2,605.8 1293.9,605.8C1294.8,605.8 1296.3,568.6 1297.2,568.6C1297.9,568.6 1299.1,592.6 1299.8,600.7C1300.4,607.9 1301.4,626.1 1302,626.1C1302.8,626.1 1304.1,597.4 1304.9,597.4C1305.3,597.4 1306.1,603.2 1306.6,605.8C1307.2,609.8 1308.4,622.8 1309.1,622.8C1309.9,622.8 1311.3,565.2 1312.1,565.2C1312.9,565.2 1314.3,594 1315,594C1315.9,594 1317.5,580.4 1318.4,580.4C1319.1,580.4 1320.3,590.7 1320.9,597.4C1321.5,603.2 1322.6,626.1 1323.1,626.1C1323.9,626.1 1325.3,607.5 1326,607.5C1326.9,607.5 1328.5,622.8 1329.4,622.8C1330.4,622.8 1332.3,565.2 1333.3,565.2C1334.1,565.2 1335.4,594 1336.2,594C1336.9,594 1338.3,576.2 1339.1,576.2C1339.7,576.2 1340.9,591.2 1341.6,597.4C1342.5,605.7 1344.1,631.3 1345,631.3C1345.5,631.3 1346.5,607.3 1347,607.3C1347.8,607.3 1349.2,619.3 1350,619.3C1351.2,619.3 1353.2,531.1 1354.4,531.1C1355.1,531.1 1356.3,581.2 1357,581.2C1357.7,581.2 1358.8,569.2 1359.4,569.2C1360.1,569.2 1361.3,595.1 1362,605.3C1362.8,617 1364.2,651.4 1365,651.4C1365.8,651.4 1367.2,607.3 1368,607.3C1368.8,607.3 1370.2,611.3 1371,611.3C1371.6,611.3 1372.5,556.5 1373,551.2C1373.7,544.8 1374.8,543.2 1375.5,543.2C1376.1,543.2 1377.4,581.2 1378.1,581.2C1378.9,581.2 1380.3,581.2 1381.1,581.2C1381.9,581.2 1383.3,617 1384.1,625.3C1384.6,630.8 1385.5,637.3 1386.1,637.3C1386.6,637.3 1387.5,607.3 1388.1,607.3C1389.1,607.3 1391,609.3 1392.1,609.3C1392.6,609.3 1393.5,589.2 1394.1,581.2C1394.7,571.7 1395.8,543.2 1396.5,543.2C1397.2,543.2 1398.4,578.4 1399.1,579.2C1399.9,580.2 1401.3,579.9 1402.1,581.2C1402.6,582.1 1403.6,611.8 1404.1,619.3C1404.8,629.1 1406,643.3 1406.7,643.3C1407.3,643.3 1408.5,606.6 1409.1,605.3C1410.2,603 1412,603.6 1413.1,601.3C1414.1,599.2 1415.8,543.2 1416.7,543.2C1417.6,543.2 1419.2,582.2 1420.1,583.2C1420.9,584.2 1422.3,583.9 1423.1,585.2C1423.7,586.1 1424.6,613 1425.1,619.3C1425.8,627.5 1427,636.3 1427.7,636.3C1428.4,636.3 1429.5,603.3 1430.1,603.3C1431.4,603.3 1433.5,609.3 1434.8,609.3C1435.7,609.3 1437.3,535.2 1438.2,535.2C1439.2,535.2 1441.1,579.5 1442.2,581.2C1442.7,582.1 1443.6,581.9 1444.2,583.2C1444.7,584.6 1445.6,612.7 1446.2,619.3C1446.9,627.8 1448.1,636.3 1448.8,636.3C1449.4,636.3 1450.5,605.3 1451.2,605.3C1452,605.3 1453.4,605.3 1454.2,605.3C1455.3,605.3 1457.1,533.1 1458.2,533.1C1459,533.1 1460.4,558.3 1461.2,565.2C1462,572.1 1463.4,575.9 1464.2,585.2C1465,594.6 1466.4,621.7 1467.2,635.3C1468,648.9 1469.4,687.4 1470.2,687.4C1471,687.4 1472.4,659 1473.2,645.3C1474,631.7 1475.4,599.1 1476.2,585.2C1477,571.3 1478.4,541.2 1479.2,541.2C1480.3,541.2 1482.2,578.4 1483.2,595.3C1483.8,603.7 1484.7,624.1 1485.2,631.3C1486.8,653 1489.6,685.4 1491.2,685.4C1492.3,685.4 1494.2,675.8 1495.3,655.4C1496.4,632.9 1498.5,520.1 1499.7,520.1C1500.6,520.1 1502.3,541.4 1503.3,555.2C1503.8,562.9 1504.7,586.2 1505.3,593.3C1506.1,603.8 1507.5,608.7 1508.3,615.3C1509.3,624 1511.2,651.4 1512.3,651.4C1513.2,651.4 1514.8,629.3 1515.7,615.3C1516.8,598 1518.8,530.1 1519.9,530.1C1520.8,530.1 1522.4,585.2 1523.3,585.2C1524.1,585.2 1525.5,577.2 1526.3,577.2C1527.1,577.2 1528.5,615.2 1529.3,625.3C1530.2,636.7 1531.8,656.4 1532.7,656.4C1533.7,656.4 1535.4,628.6 1536.3,615.3C1537.4,600.5 1539.3,550.2 1540.3,550.2C1541.1,550.2 1542.5,595.3 1543.3,595.3C1544.4,595.3 1546.3,595.3 1547.3,595.3C1548.1,595.3 1549.5,622.4 1550.3,629.3C1551.2,636.3 1552.6,647.3 1553.4,647.3C1554.2,647.3 1555.6,594.7 1556.4,581.2C1557.6,560.6 1559.7,528.1 1561,528.1C1561.9,528.1 1563.5,571.6 1564.4,585.2C1565.2,597.3 1566.6,622.3 1567.4,625.3C1568.2,628.3 1569.6,628.1 1570.4,629.3C1571.2,630.5 1572.6,643.3 1573.4,643.3C1574.2,643.3 1575.6,557.2 1576.4,557.2C1577.2,557.2 1578.6,593.3 1579.4,593.3C1580.2,593.3 1581.6,551.2 1582.4,551.2C1583.2,551.2 1584.6,578.7 1585.4,585.2C1586.5,594 1588.3,605.3 1589.4,605.3C1589.9,605.3 1590.9,603.3 1591.4,603.3C1592.1,603.3 1593.3,619.3 1594,619.3C1594.8,619.3 1596.1,565.2 1596.8,565.2C1597.5,565.2 1598.7,591.2 1599.4,591.2C1600.3,591.2 1601.9,569.2 1602.8,569.2C1603.5,569.2 1604.7,592.1 1605.4,597.3C1606.5,605.1 1608.4,610.4 1609.4,613.3C1610.3,615.4 1611.7,615.5 1612.5,617.3C1613.1,618.8 1614.4,625.3 1615.1,625.3C1616,625.3 1617.6,549.2 1618.5,549.2C1619.3,549.2 1620.7,627.3 1621.5,627.3C1622.3,627.3 1623.7,585.2 1624.5,585.2C1625.3,585.2 1626.7,618 1627.5,625.3C1628,630.2 1628.9,630 1629.5,635.3C1630.1,641.7 1631.2,671.4 1631.9,671.4C1632.8,671.4 1634.5,622 1635.5,605.3C1636.4,589.5 1638,549.2 1638.9,549.2C1639.9,549.2 1641.5,647.3 1642.5,647.3C1643.1,647.3 1644.3,611.3 1644.9,611.3C1645.6,611.3 1646.8,624.8 1647.5,629.3C1648.3,634.5 1649.7,642.2 1650.5,647.3C1651.6,654.2 1653.5,674.4 1654.5,674.4C1655.9,674.4 1658.2,561.2 1659.5,561.2C1660.3,561.2 1661.7,635.3 1662.5,635.3C1663.2,635.3 1664.4,617.3 1665.1,617.3C1665.8,617.3 1666.9,636.9 1667.5,643.3C1668.2,649.7 1669.3,665.4 1670,665.4C1670.6,665.4 1671.9,651.4 1672.6,651.4C1673.4,651.4 1674.8,653.4 1675.6,653.4C1676.9,653.4 1679.2,577.2 1680.6,577.2C1681.4,577.2 1682.8,625.3 1683.6,625.3C1684.2,625.3 1685.3,621.3 1686,621.3C1686.5,621.3 1687.4,639.7 1688,646.3" fill="none" stroke="#f00" stroke-width="4.1" stroke-linejoin="round" stroke-linecap="round"/>
<text x="607.7" y="870.6" font-size="29">B)</text>
<text x="593" y="930.2" font-size="33">Habitat</text>
<rect x="710.4" y="900.7" width="34.4" height="34" fill="#F3B52E" stroke="#1a1a1a" stroke-width="1.6"/>
<text x="755.2" y="930.2" font-size="33">Bare sediment</text>
<rect x="981.5" y="900.7" width="34.4" height="34" fill="#2F832E" stroke="#1a1a1a" stroke-width="1.6"/>
<text x="1028.5" y="930.2" font-size="33" font-style="italic">Zostera noltei</text>
<rect x="602.7" y="970.6" width="301.7" height="46.2" fill="#fff" stroke="#1a1a1a" stroke-width="2"/>
<text x="753.5" y="1006.2" font-size="33" text-anchor="middle">Noia</text>
<rect x="917.4" y="970.6" width="302.3" height="46.2" fill="#fff" stroke="#1a1a1a" stroke-width="2"/>
<text x="1068.5" y="1006.2" font-size="33" text-anchor="middle">Combarro</text>
<line x1="602.6" y1="1016.8" x2="602.6" y2="1410.5" stroke="#000" stroke-width="2"/>
<line x1="596" y1="1392.5" x2="602.6" y2="1392.5" stroke="#333" stroke-width="1.6"/>
<text x="591" y="1404.2" font-size="33" text-anchor="end">0</text>
<line x1="596" y1="1334.8" x2="602.6" y2="1334.8" stroke="#333" stroke-width="1.6"/>
<text x="591" y="1346.5" font-size="33" text-anchor="end">25</text>
<line x1="596" y1="1277.2" x2="602.6" y2="1277.2" stroke="#333" stroke-width="1.6"/>
<text x="591" y="1288.9" font-size="33" text-anchor="end">50</text>
<line x1="596" y1="1219.5" x2="602.6" y2="1219.5" stroke="#333" stroke-width="1.6"/>
<text x="591" y="1231.2" font-size="33" text-anchor="end">75</text>
<line x1="596" y1="1161.8" x2="602.6" y2="1161.8" stroke="#333" stroke-width="1.6"/>
<text x="591" y="1173.5" font-size="33" text-anchor="end">100</text>
<line x1="596" y1="1104.2" x2="602.6" y2="1104.2" stroke="#333" stroke-width="1.6"/>
<text x="591" y="1115.9" font-size="33" text-anchor="end">125</text>
<line x1="596" y1="1046.5" x2="602.6" y2="1046.5" stroke="#333" stroke-width="1.6"/>
<text x="591" y="1058.2" font-size="33" text-anchor="end">150</text>
<text x="524" y="1214" font-size="33" text-anchor="middle" transform="rotate(-90 524 1214)">Degree days above 20<tspan font-size="41" dy="4" dx="-1.5">°</tspan><tspan dy="-4" dx="-1.7">C</tspan></text>
<line x1="601.6" y1="1409.6" x2="904.6" y2="1409.6" stroke="#000" stroke-width="2"/>
<line x1="917.2" y1="1409.6" x2="1220.4" y2="1409.6" stroke="#000" stroke-width="2"/>
<rect x="616.0" y="1278.0" width="42.2" height="114.5" fill="#F3B52E" stroke="#000" stroke-width="2"/>
<rect x="658.2" y="1293.7" width="43" height="98.8" fill="#2F832E" stroke="#000" stroke-width="2"/>
<rect x="710.9" y="1293.4" width="42.5" height="99.1" fill="#F3B52E" stroke="#000" stroke-width="2"/>
<rect x="753.4" y="1298.9" width="43" height="93.6" fill="#2F832E" stroke="#000" stroke-width="2"/>
<rect x="805.5" y="1284.6" width="42.5" height="107.9" fill="#F3B52E" stroke="#000" stroke-width="2"/>
<rect x="848.0" y="1290.3" width="43" height="102.2" fill="#2F832E" stroke="#000" stroke-width="2"/>
<rect x="931.0" y="1043.1" width="42.2" height="349.4" fill="#F3B52E" stroke="#000" stroke-width="2"/>
<rect x="973.2" y="1071.8" width="43.3" height="320.7" fill="#2F832E" stroke="#000" stroke-width="2"/>
<rect x="1026.2" y="1067.9" width="42.2" height="324.6" fill="#F3B52E" stroke="#000" stroke-width="2"/>
<rect x="1068.4" y="1080.4" width="43" height="312.1" fill="#2F832E" stroke="#000" stroke-width="2"/>
<rect x="1121.1" y="1053.0" width="42.5" height="339.5" fill="#F3B52E" stroke="#000" stroke-width="2"/>
<rect x="1163.6" y="1066.0" width="43" height="326.5" fill="#2F832E" stroke="#000" stroke-width="2"/>
<path d="M632.6,1273.9H641.6M637.1,1273.9V1282.5M632.6,1282.5H641.6" stroke="#000" stroke-width="2.1" fill="none"/>
<path d="M675.2,1287.7H684.2M679.7,1287.7V1300M675.2,1300H684.2" stroke="#000" stroke-width="2.1" fill="none"/>
<path d="M727.6,1290.3H736.6M732.1,1290.3V1296.8M727.6,1296.8H736.6" stroke="#000" stroke-width="2.1" fill="none"/>
<path d="M770.4,1292.9H779.4M774.9,1292.9V1305.2M770.4,1305.2H779.4" stroke="#000" stroke-width="2.1" fill="none"/>
<path d="M822.2,1280.7H831.2M826.8,1280.7V1288.5M822.2,1288.5H831.2" stroke="#000" stroke-width="2.1" fill="none"/>
<path d="M865,1283.8H874M869.5,1283.8V1296.8M865,1296.8H874" stroke="#000" stroke-width="2.1" fill="none"/>
<path d="M947.6,1036.1H956.6M952.1,1036.1V1049.9M947.6,1049.9H956.6" stroke="#000" stroke-width="2.1" fill="none"/>
<path d="M990.4,1061.6H999.4M994.9,1061.6V1081.2M990.4,1081.2H999.4" stroke="#000" stroke-width="2.1" fill="none"/>
<path d="M1042.8,1062.2H1051.8M1047.3,1062.2V1073.9M1042.8,1073.9H1051.8" stroke="#000" stroke-width="2.1" fill="none"/>
<path d="M1085.4,1070.8H1094.4M1089.9,1070.8V1090M1085.4,1090H1094.4" stroke="#000" stroke-width="2.1" fill="none"/>
<path d="M1137.8,1046.5H1146.8M1142.3,1046.5V1059.5M1137.8,1059.5H1146.8" stroke="#000" stroke-width="2.1" fill="none"/>
<path d="M1180.6,1055.6H1189.6M1185.1,1055.6V1076M1180.6,1076H1189.6" stroke="#000" stroke-width="2.1" fill="none"/>
<line x1="658.5" y1="1409.6" x2="658.5" y2="1415.5" stroke="#333" stroke-width="1.6"/>
<text x="659" y="1444.8" font-size="33" font-style="italic" text-anchor="end" transform="rotate(-19.6 659 1421.5)">V. corrugata</text>
<line x1="753.4" y1="1409.6" x2="753.4" y2="1415.5" stroke="#333" stroke-width="1.6"/>
<text x="753.9" y="1444.8" font-size="33" font-style="italic" text-anchor="end" transform="rotate(-19.6 753.9 1421.5)">R. decussatus</text>
<line x1="848" y1="1409.6" x2="848" y2="1415.5" stroke="#333" stroke-width="1.6"/>
<text x="848.5" y="1444.8" font-size="33" font-style="italic" text-anchor="end" transform="rotate(-19.6 848.5 1421.5)">R. philippinarum</text>
<line x1="973.2" y1="1409.6" x2="973.2" y2="1415.5" stroke="#333" stroke-width="1.6"/>
<text x="973.7" y="1444.8" font-size="33" font-style="italic" text-anchor="end" transform="rotate(-19.6 973.7 1421.5)">V. corrugata</text>
<line x1="1068.4" y1="1409.6" x2="1068.4" y2="1415.5" stroke="#333" stroke-width="1.6"/>
<text x="1068.9" y="1444.8" font-size="33" font-style="italic" text-anchor="end" transform="rotate(-19.6 1068.9 1421.5)">R. decussatus</text>
<line x1="1163.6" y1="1409.6" x2="1163.6" y2="1415.5" stroke="#333" stroke-width="1.6"/>
<text x="1164.1" y="1444.8" font-size="33" font-style="italic" text-anchor="end" transform="rotate(-19.6 1164.1 1421.5)">R. philippinarum</text>
<text x="910.5" y="1560.3" font-size="33" text-anchor="middle">Species</text>
</svg>
</body></html>
